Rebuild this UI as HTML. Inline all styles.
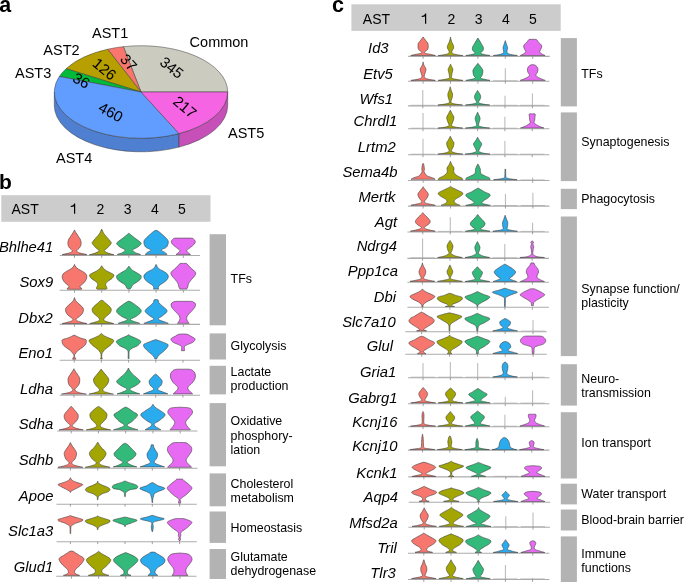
<!DOCTYPE html>
<html><head><meta charset="utf-8"><style>
html,body{margin:0;padding:0;background:#fff;overflow:hidden;}
svg{display:block;will-change:transform;}
text{font-family:"Liberation Sans", sans-serif;fill:#000;}
</style></head><body>
<svg width="685" height="582" viewBox="0 0 685 582">
<rect width="685" height="582" fill="#fff"/>
<path d="M54.30,92.00 A86.7,46.3 0 0 0 179.03,133.61 L179.03,147.11 A86.7,46.3 0 0 1 54.30,105.50 Z" fill="#4F7FD0" stroke="#3a3a3a" stroke-width="0.5" stroke-linejoin="round"/>
<path d="M179.03,133.61 A86.7,46.3 0 0 0 227.70,92.00 L227.70,105.50 A86.7,46.3 0 0 1 179.03,147.11 Z" fill="#C650B8" stroke="#3a3a3a" stroke-width="0.5" stroke-linejoin="round"/>
<path d="M141.0,92.0 L227.70,92.00 A86.7,46.3 0 0 0 123.39,46.67 Z" fill="#CCCBBF" stroke="#3a3a3a" stroke-width="0.5" stroke-linejoin="round"/>
<path d="M141.0,92.0 L123.39,46.67 A86.7,46.3 0 0 0 107.64,49.26 Z" fill="#F8766D" stroke="#3a3a3a" stroke-width="0.5" stroke-linejoin="round"/>
<path d="M141.0,92.0 L107.64,49.26 A86.7,46.3 0 0 0 66.08,68.70 Z" fill="#B79F00" stroke="#3a3a3a" stroke-width="0.5" stroke-linejoin="round"/>
<path d="M141.0,92.0 L66.08,68.70 A86.7,46.3 0 0 0 59.33,76.46 Z" fill="#00BA38" stroke="#3a3a3a" stroke-width="0.5" stroke-linejoin="round"/>
<path d="M141.0,92.0 L59.33,76.46 A86.7,46.3 0 0 0 179.03,133.61 Z" fill="#619CFF" stroke="#3a3a3a" stroke-width="0.5" stroke-linejoin="round"/>
<path d="M141.0,92.0 L179.03,133.61 A86.7,46.3 0 0 0 227.70,92.00 Z" fill="#F564E3" stroke="#3a3a3a" stroke-width="0.5" stroke-linejoin="round"/>
<text transform="translate(171.8,67.6) rotate(38)" x="0" y="5.3" text-anchor="middle" font-size="15">345</text>
<text transform="translate(128.7,62.5) rotate(48)" x="0" y="5.3" text-anchor="middle" font-size="15">37</text>
<text transform="translate(104.6,69.1) rotate(40)" x="0" y="5.3" text-anchor="middle" font-size="15">126</text>
<text transform="translate(81.5,80.5) rotate(30)" x="0" y="5.3" text-anchor="middle" font-size="15">36</text>
<text transform="translate(110.9,112.0) rotate(28)" x="0" y="5.3" text-anchor="middle" font-size="15">460</text>
<text transform="translate(185.0,106.9) rotate(40)" x="0" y="5.3" text-anchor="middle" font-size="15">217</text>
<text x="92.0" y="38.0"  font-size="14.5">AST1</text>
<text x="189.6" y="47.1"  font-size="14.5">Common</text>
<text x="43.3" y="54.5"  font-size="14.5">AST2</text>
<text x="15.0" y="77.9"  font-size="14.5">AST3</text>
<text x="228.0" y="137.6"  font-size="14.5">AST5</text>
<text x="56.0" y="162.5"  font-size="14.5">AST4</text>
<text x="-0.7" y="11.8" font-size="21.4" font-weight="bold">a</text>
<text x="-0.9" y="189.0" font-size="21" font-weight="bold">b</text>
<text x="332.1" y="11.8" font-size="21.6" font-weight="bold">c</text>
<rect x="1.3" y="195.2" width="209.2" height="26.6" fill="#CCCCCC"/>
<rect x="351.4" y="4.3" width="209.3" height="26.6" fill="#CCCCCC"/>
<text x="11.5" y="213.7"  font-size="14">AST</text>
<path d="M74.00,213.70 L75.20,213.70 L75.20,203.40 L74.25,203.40 Q73.80,205.40 70.70,205.90 L70.70,206.90 Q73.80,206.90 74.00,206.30 Z" fill="#000"/>
<text x="100.4" y="213.7"  font-size="14" text-anchor="middle">2</text>
<text x="127.6" y="213.7"  font-size="14" text-anchor="middle">3</text>
<text x="154.8" y="213.7"  font-size="14" text-anchor="middle">4</text>
<text x="182.0" y="213.7"  font-size="14" text-anchor="middle">5</text>
<text x="362.8" y="23.7"  font-size="14">AST</text>
<path d="M425.00,23.70 L426.20,23.70 L426.20,13.40 L425.25,13.40 Q424.80,15.40 421.70,15.90 L421.70,16.90 Q424.80,16.90 425.00,16.30 Z" fill="#000"/>
<text x="451.4" y="23.7"  font-size="14" text-anchor="middle">2</text>
<text x="478.6" y="23.7"  font-size="14" text-anchor="middle">3</text>
<text x="505.8" y="23.7"  font-size="14" text-anchor="middle">4</text>
<text x="532.9" y="23.7"  font-size="14" text-anchor="middle">5</text>
<rect x="209.6" y="234.2" width="16.4" height="91.1" fill="#B3B3B3"/>
<text x="230.6" y="282.9"  font-size="12.4">TFs</text>
<rect x="209.6" y="333.4" width="16.4" height="26.1" fill="#B3B3B3"/>
<text x="230.6" y="349.7"  font-size="12.4">Glycolysis</text>
<rect x="209.6" y="365.8" width="16.4" height="28.6" fill="#B3B3B3"/>
<text x="230.6" y="375.8"  font-size="12.4">Lactate</text>
<text x="230.6" y="390.0"  font-size="12.4">production</text>
<rect x="209.6" y="403.1" width="16.4" height="63.2" fill="#B3B3B3"/>
<text x="230.6" y="425.4"  font-size="12.4">Oxidative</text>
<text x="230.6" y="439.6"  font-size="12.4">phosphory-</text>
<text x="230.6" y="453.8"  font-size="12.4">lation</text>
<rect x="209.6" y="473.4" width="16.4" height="32.9" fill="#B3B3B3"/>
<text x="230.6" y="488.0"  font-size="12.4">Cholesterol</text>
<text x="230.6" y="502.2"  font-size="12.4">metabolism</text>
<rect x="209.6" y="511.5" width="16.4" height="31.4" fill="#B3B3B3"/>
<text x="230.6" y="532.2"  font-size="12.4">Homeostasis</text>
<rect x="209.6" y="549.0" width="16.4" height="30.0" fill="#B3B3B3"/>
<text x="230.6" y="561.2"  font-size="12.4">Glutamate</text>
<text x="230.6" y="575.4"  font-size="12.4">dehydrogenase</text>
<rect x="560.8" y="38.1" width="16.1" height="68.3" fill="#B3B3B3"/>
<text x="581.3" y="78.3"  font-size="12.4">TFs</text>
<rect x="560.8" y="112.4" width="16.1" height="68.7" fill="#B3B3B3"/>
<text x="581.3" y="145.8"  font-size="12.4">Synaptogenesis</text>
<rect x="560.8" y="188.8" width="16.1" height="20.3" fill="#B3B3B3"/>
<text x="581.3" y="203.0"  font-size="12.4">Phagocytosis</text>
<rect x="560.8" y="216.5" width="16.1" height="139.6" fill="#B3B3B3"/>
<text x="581.3" y="293.0"  font-size="12.4">Synapse function/</text>
<text x="581.3" y="307.4"  font-size="12.4">plasticity</text>
<rect x="560.8" y="364.2" width="16.1" height="41.4" fill="#B3B3B3"/>
<text x="581.3" y="382.5"  font-size="12.4">Neuro-</text>
<text x="581.3" y="396.9"  font-size="12.4">transmission</text>
<rect x="560.8" y="412.2" width="16.1" height="66.3" fill="#B3B3B3"/>
<text x="581.3" y="447.0"  font-size="12.4">Ion transport</text>
<rect x="560.8" y="483.7" width="16.1" height="20.7" fill="#B3B3B3"/>
<text x="581.3" y="498.2"  font-size="12.4">Water transport</text>
<rect x="560.8" y="509.5" width="16.1" height="21.0" fill="#B3B3B3"/>
<text x="581.3" y="523.9"  font-size="12.4">Blood-brain barrier</text>
<rect x="560.8" y="536.4" width="16.1" height="45.6" fill="#B3B3B3"/>
<text x="581.3" y="557.6"  font-size="12.4">Immune</text>
<text x="581.3" y="572.0"  font-size="12.4">functions</text>
<line x1="59.7" y1="255.5" x2="200.0" y2="255.5" stroke="#ABABAB" stroke-width="1.1"/>
<line x1="74.50" y1="255.5" x2="74.50" y2="257.9" stroke="#707070" stroke-width="0.65"/>
<line x1="101.70" y1="255.5" x2="101.70" y2="257.9" stroke="#707070" stroke-width="0.65"/>
<line x1="128.90" y1="255.5" x2="128.90" y2="257.9" stroke="#707070" stroke-width="0.65"/>
<line x1="156.10" y1="255.5" x2="156.10" y2="257.9" stroke="#707070" stroke-width="0.65"/>
<line x1="183.30" y1="255.5" x2="183.30" y2="257.9" stroke="#707070" stroke-width="0.65"/>
<path d="M62.10,254.70 L86.90,254.70 C86.77,254.65 87.22,254.67 86.10,254.40 C84.98,254.13 81.63,253.50 80.20,253.10 C78.77,252.70 78.05,252.45 77.50,252.00 C76.95,251.55 76.63,251.02 76.90,250.40 C77.17,249.78 78.45,249.10 79.10,248.30 C79.75,247.50 80.47,246.60 80.80,245.60 C81.13,244.60 81.20,243.38 81.10,242.30 C81.00,241.22 80.72,240.18 80.20,239.10 C79.68,238.02 78.72,236.88 78.00,235.80 C77.28,234.72 76.48,233.58 75.90,232.60 C75.32,231.62 74.73,230.35 74.50,229.90 L74.50,229.90 C74.27,230.35 73.68,231.62 73.10,232.60 C72.52,233.58 71.72,234.72 71.00,235.80 C70.28,236.88 69.32,238.02 68.80,239.10 C68.28,240.18 68.00,241.22 67.90,242.30 C67.80,243.38 67.87,244.60 68.20,245.60 C68.53,246.60 69.25,247.50 69.90,248.30 C70.55,249.10 71.83,249.78 72.10,250.40 C72.37,251.02 72.05,251.55 71.50,252.00 C70.95,252.45 70.23,252.70 68.80,253.10 C67.37,253.50 64.02,254.13 62.90,254.40 C61.78,254.67 62.23,254.65 62.10,254.70 Z" fill="#F7766D" stroke="#404040" stroke-width="0.6" stroke-linejoin="round"/>
<path d="M89.40,254.70 L114.00,254.70 C113.70,254.63 113.17,254.57 112.20,254.30 C111.23,254.03 109.42,253.57 108.20,253.10 C106.98,252.63 105.53,251.95 104.90,251.50 C104.27,251.05 103.95,251.03 104.40,250.40 C104.85,249.77 106.48,248.87 107.60,247.70 C108.72,246.53 110.65,244.48 111.10,243.40 C111.55,242.32 111.05,242.28 110.30,241.20 C109.55,240.12 107.67,238.15 106.60,236.90 C105.53,235.65 104.72,235.00 103.90,233.70 C103.08,232.40 102.07,229.87 101.70,229.10 L101.70,229.10 C101.33,229.87 100.32,232.40 99.50,233.70 C98.68,235.00 97.87,235.65 96.80,236.90 C95.73,238.15 93.85,240.12 93.10,241.20 C92.35,242.28 91.85,242.32 92.30,243.40 C92.75,244.48 94.68,246.53 95.80,247.70 C96.92,248.87 98.55,249.77 99.00,250.40 C99.45,251.03 99.13,251.05 98.50,251.50 C97.87,251.95 96.42,252.63 95.20,253.10 C93.98,253.57 92.17,254.03 91.20,254.30 C90.23,254.57 89.70,254.63 89.40,254.70 Z" fill="#A3A500" stroke="#404040" stroke-width="0.6" stroke-linejoin="round"/>
<path d="M117.30,254.45 L140.50,254.45 C140.23,254.36 139.68,254.16 138.90,253.90 C138.12,253.64 136.75,253.40 135.80,252.90 C134.85,252.40 133.70,251.45 133.20,250.90 C132.70,250.35 132.03,250.25 132.80,249.60 C133.57,248.95 136.42,247.98 137.80,247.00 C139.18,246.02 140.78,244.58 141.10,243.70 C141.42,242.82 140.80,242.68 139.70,241.70 C138.60,240.72 136.03,239.00 134.50,237.80 C132.97,236.60 131.43,235.27 130.50,234.50 C129.57,233.73 129.17,233.42 128.90,233.20 L128.90,233.20 C128.63,233.42 128.23,233.73 127.30,234.50 C126.37,235.27 124.83,236.60 123.30,237.80 C121.77,239.00 119.20,240.72 118.10,241.70 C117.00,242.68 116.38,242.82 116.70,243.70 C117.02,244.58 118.62,246.02 120.00,247.00 C121.38,247.98 124.23,248.95 125.00,249.60 C125.77,250.25 125.10,250.35 124.60,250.90 C124.10,251.45 122.95,252.40 122.00,252.90 C121.05,253.40 119.68,253.64 118.90,253.90 C118.12,254.16 117.57,254.36 117.30,254.45 Z" fill="#33B97A" stroke="#404040" stroke-width="0.6" stroke-linejoin="round"/>
<path d="M145.10,254.45 L167.10,254.45 C166.93,254.29 166.52,253.88 166.10,253.50 C165.68,253.12 165.28,252.63 164.60,252.20 C163.92,251.77 162.50,251.33 162.00,250.90 C161.50,250.47 160.83,250.25 161.60,249.60 C162.37,248.95 165.48,248.32 166.60,247.00 C167.72,245.68 168.43,243.23 168.30,241.70 C168.17,240.17 166.95,239.12 165.80,237.80 C164.65,236.48 162.65,234.90 161.40,233.80 C160.15,232.70 159.18,231.78 158.30,231.20 C157.42,230.62 156.47,230.45 156.10,230.30 L156.10,230.30 C155.73,230.45 154.78,230.62 153.90,231.20 C153.02,231.78 152.05,232.70 150.80,233.80 C149.55,234.90 147.55,236.48 146.40,237.80 C145.25,239.12 144.03,240.17 143.90,241.70 C143.77,243.23 144.48,245.68 145.60,247.00 C146.72,248.32 149.83,248.95 150.60,249.60 C151.37,250.25 150.70,250.47 150.20,250.90 C149.70,251.33 148.28,251.77 147.60,252.20 C146.92,252.63 146.52,253.12 146.10,253.50 C145.68,253.88 145.27,254.29 145.10,254.45 Z" fill="#2AABEE" stroke="#404040" stroke-width="0.6" stroke-linejoin="round"/>
<path d="M176.10,254.45 L190.50,254.45 C190.02,254.07 188.20,252.91 187.60,252.20 C187.00,251.49 186.47,250.97 186.90,250.20 C187.33,249.43 189.00,248.58 190.20,247.60 C191.40,246.62 193.25,245.33 194.10,244.30 C194.95,243.27 195.40,242.27 195.30,241.40 C195.20,240.53 194.08,239.63 193.50,239.10 C192.92,238.57 193.50,238.37 191.80,238.20 C190.10,238.03 184.72,238.12 183.30,238.10 L183.30,238.10 C181.88,238.12 176.50,238.03 174.80,238.20 C173.10,238.37 173.68,238.57 173.10,239.10 C172.52,239.63 171.40,240.53 171.30,241.40 C171.20,242.27 171.65,243.27 172.50,244.30 C173.35,245.33 175.20,246.62 176.40,247.60 C177.60,248.58 179.27,249.43 179.70,250.20 C180.13,250.97 179.60,251.49 179.00,252.20 C178.40,252.91 176.58,254.07 176.10,254.45 Z" fill="#E76BF2" stroke="#404040" stroke-width="0.6" stroke-linejoin="round"/>
<text x="53.30" y="251.5"  font-size="14.8" font-style="italic" text-anchor="end">Bhlhe41</text>
<line x1="59.7" y1="290.3" x2="200.0" y2="290.3" stroke="#ABABAB" stroke-width="1.1"/>
<line x1="74.50" y1="290.3" x2="74.50" y2="292.7" stroke="#707070" stroke-width="0.65"/>
<line x1="101.70" y1="290.3" x2="101.70" y2="292.7" stroke="#707070" stroke-width="0.65"/>
<line x1="128.90" y1="290.3" x2="128.90" y2="292.7" stroke="#707070" stroke-width="0.65"/>
<line x1="156.10" y1="290.3" x2="156.10" y2="292.7" stroke="#707070" stroke-width="0.65"/>
<line x1="183.30" y1="290.3" x2="183.30" y2="292.7" stroke="#707070" stroke-width="0.65"/>
<path d="M67.90,289.30 L81.10,289.30 C81.25,289.20 81.95,288.90 82.00,288.70 C82.05,288.50 81.75,288.37 81.40,288.10 C81.05,287.83 80.00,287.55 79.90,287.10 C79.80,286.65 80.12,286.13 80.80,285.40 C81.48,284.67 83.10,283.68 84.00,282.70 C84.90,281.72 85.73,280.57 86.20,279.50 C86.67,278.43 86.90,277.28 86.80,276.30 C86.70,275.32 86.30,274.42 85.60,273.60 C84.90,272.78 83.77,272.13 82.60,271.40 C81.43,270.67 79.72,269.92 78.60,269.20 C77.47,268.48 76.53,267.90 75.85,267.10 C75.17,266.30 74.72,264.85 74.50,264.40 L74.50,264.40 C74.28,264.85 73.83,266.30 73.15,267.10 C72.47,267.90 71.53,268.48 70.40,269.20 C69.28,269.92 67.57,270.67 66.40,271.40 C65.23,272.13 64.10,272.78 63.40,273.60 C62.70,274.42 62.30,275.32 62.20,276.30 C62.10,277.28 62.33,278.43 62.80,279.50 C63.27,280.57 64.10,281.72 65.00,282.70 C65.90,283.68 67.52,284.67 68.20,285.40 C68.88,286.13 69.20,286.65 69.10,287.10 C69.00,287.55 67.95,287.83 67.60,288.10 C67.25,288.37 66.95,288.50 67.00,288.70 C67.05,288.90 67.75,289.20 67.90,289.30 Z" fill="#F7766D" stroke="#404040" stroke-width="0.6" stroke-linejoin="round"/>
<path d="M97.10,289.20 L106.30,289.20 C106.43,289.02 107.10,288.55 107.10,288.10 C107.10,287.65 106.53,287.22 106.30,286.50 C106.07,285.78 105.38,284.70 105.70,283.80 C106.02,282.90 107.15,282.00 108.20,281.10 C109.25,280.20 111.05,279.38 112.00,278.40 C112.95,277.42 114.08,276.10 113.90,275.20 C113.72,274.30 112.12,273.72 110.90,273.00 C109.68,272.28 107.87,271.70 106.60,270.90 C105.33,270.10 104.12,269.07 103.30,268.20 C102.48,267.33 101.97,266.12 101.70,265.70 L101.70,265.70 C101.43,266.12 100.92,267.33 100.10,268.20 C99.28,269.07 98.07,270.10 96.80,270.90 C95.53,271.70 93.72,272.28 92.50,273.00 C91.28,273.72 89.68,274.30 89.50,275.20 C89.32,276.10 90.45,277.42 91.40,278.40 C92.35,279.38 94.15,280.20 95.20,281.10 C96.25,282.00 97.38,282.90 97.70,283.80 C98.02,284.70 97.33,285.78 97.10,286.50 C96.87,287.22 96.30,287.65 96.30,288.10 C96.30,288.55 96.97,289.02 97.10,289.20 Z" fill="#A3A500" stroke="#404040" stroke-width="0.6" stroke-linejoin="round"/>
<path d="M127.90,289.10 L129.90,289.10 C130.15,288.82 130.93,288.12 131.40,287.40 C131.87,286.68 131.80,285.67 132.70,284.80 C133.60,283.93 135.48,283.18 136.80,282.20 C138.12,281.22 139.92,280.00 140.60,278.90 C141.28,277.80 141.48,276.58 140.90,275.60 C140.32,274.62 138.50,273.88 137.10,273.00 C135.70,272.12 133.67,271.18 132.50,270.30 C131.33,269.42 130.70,268.40 130.10,267.70 C129.50,267.00 129.10,266.37 128.90,266.10 L128.90,266.10 C128.70,266.37 128.30,267.00 127.70,267.70 C127.10,268.40 126.47,269.42 125.30,270.30 C124.13,271.18 122.10,272.12 120.70,273.00 C119.30,273.88 117.48,274.62 116.90,275.60 C116.32,276.58 116.52,277.80 117.20,278.90 C117.88,280.00 119.68,281.22 121.00,282.20 C122.32,283.18 124.20,283.93 125.10,284.80 C126.00,285.67 125.93,286.68 126.40,287.40 C126.87,288.12 127.65,288.82 127.90,289.10 Z" fill="#33B97A" stroke="#404040" stroke-width="0.6" stroke-linejoin="round"/>
<path d="M153.50,289.10 L158.70,289.10 C158.65,288.82 158.27,288.02 158.40,287.40 C158.53,286.78 158.85,286.05 159.50,285.40 C160.15,284.75 161.22,284.27 162.30,283.50 C163.38,282.73 165.00,281.90 166.00,280.80 C167.00,279.70 168.15,278.10 168.30,276.90 C168.45,275.70 167.78,274.58 166.90,273.60 C166.02,272.62 164.40,271.87 163.00,271.00 C161.60,270.13 159.65,269.50 158.50,268.40 C157.35,267.30 156.50,265.07 156.10,264.40 L156.10,264.40 C155.70,265.07 154.85,267.30 153.70,268.40 C152.55,269.50 150.60,270.13 149.20,271.00 C147.80,271.87 146.18,272.62 145.30,273.60 C144.42,274.58 143.75,275.70 143.90,276.90 C144.05,278.10 145.20,279.70 146.20,280.80 C147.20,281.90 148.82,282.73 149.90,283.50 C150.98,284.27 152.05,284.75 152.70,285.40 C153.35,286.05 153.67,286.78 153.80,287.40 C153.93,288.02 153.55,288.82 153.50,289.10 Z" fill="#2AABEE" stroke="#404040" stroke-width="0.6" stroke-linejoin="round"/>
<path d="M179.90,289.10 L186.70,289.10 C186.88,288.72 187.48,287.73 187.80,286.80 C188.12,285.87 187.98,284.72 188.60,283.50 C189.22,282.28 190.45,280.82 191.50,279.50 C192.55,278.18 194.23,276.80 194.90,275.60 C195.57,274.40 195.98,273.40 195.50,272.30 C195.02,271.20 193.27,270.20 192.00,269.00 C190.73,267.80 188.80,266.02 187.90,265.10 C187.00,264.18 187.37,263.78 186.60,263.50 C185.83,263.22 183.85,263.42 183.30,263.40 L183.30,263.40 C182.75,263.42 180.77,263.22 180.00,263.50 C179.23,263.78 179.60,264.18 178.70,265.10 C177.80,266.02 175.87,267.80 174.60,269.00 C173.33,270.20 171.58,271.20 171.10,272.30 C170.62,273.40 171.03,274.40 171.70,275.60 C172.37,276.80 174.05,278.18 175.10,279.50 C176.15,280.82 177.38,282.28 178.00,283.50 C178.62,284.72 178.48,285.87 178.80,286.80 C179.12,287.73 179.72,288.72 179.90,289.10 Z" fill="#E76BF2" stroke="#404040" stroke-width="0.6" stroke-linejoin="round"/>
<text x="53.20" y="286.5"  font-size="14.8" font-style="italic" text-anchor="end">Sox9</text>
<line x1="59.7" y1="324.4" x2="200.0" y2="324.4" stroke="#ABABAB" stroke-width="1.1"/>
<line x1="74.50" y1="324.4" x2="74.50" y2="326.79999999999995" stroke="#707070" stroke-width="0.65"/>
<line x1="101.70" y1="324.4" x2="101.70" y2="326.79999999999995" stroke="#707070" stroke-width="0.65"/>
<line x1="128.90" y1="324.4" x2="128.90" y2="326.79999999999995" stroke="#707070" stroke-width="0.65"/>
<line x1="156.10" y1="324.4" x2="156.10" y2="326.79999999999995" stroke="#707070" stroke-width="0.65"/>
<line x1="183.30" y1="324.4" x2="183.30" y2="326.79999999999995" stroke="#707070" stroke-width="0.65"/>
<path d="M62.20,323.50 L86.80,323.50 C86.05,323.33 83.82,322.90 82.30,322.50 C80.78,322.10 78.73,321.65 77.70,321.10 C76.67,320.55 75.82,319.97 76.10,319.20 C76.38,318.43 78.33,317.48 79.40,316.50 C80.47,315.52 81.82,314.47 82.50,313.30 C83.18,312.13 83.57,310.58 83.50,309.50 C83.43,308.42 82.92,307.78 82.10,306.80 C81.28,305.82 79.64,304.58 78.60,303.60 C77.56,302.62 76.53,301.90 75.85,300.90 C75.17,299.90 74.72,298.15 74.50,297.60 L74.50,297.60 C74.28,298.15 73.83,299.90 73.15,300.90 C72.47,301.90 71.44,302.62 70.40,303.60 C69.36,304.58 67.72,305.82 66.90,306.80 C66.08,307.78 65.57,308.42 65.50,309.50 C65.43,310.58 65.82,312.13 66.50,313.30 C67.18,314.47 68.53,315.52 69.60,316.50 C70.67,317.48 72.62,318.43 72.90,319.20 C73.18,319.97 72.33,320.55 71.30,321.10 C70.27,321.65 68.22,322.10 66.70,322.50 C65.18,322.90 62.95,323.33 62.20,323.50 Z" fill="#F7766D" stroke="#404040" stroke-width="0.6" stroke-linejoin="round"/>
<path d="M89.80,323.50 L113.60,323.50 C112.97,323.33 111.22,322.90 109.80,322.50 C108.38,322.10 106.08,321.65 105.10,321.10 C104.12,320.55 103.75,319.97 103.90,319.20 C104.05,318.43 105.02,317.48 106.00,316.50 C106.98,315.52 108.92,314.47 109.80,313.30 C110.68,312.13 111.38,310.67 111.30,309.50 C111.22,308.33 110.27,307.38 109.30,306.30 C108.33,305.22 106.50,303.90 105.50,303.00 C104.50,302.10 103.93,301.35 103.30,300.90 C102.67,300.45 101.97,300.40 101.70,300.30 L101.70,300.30 C101.43,300.40 100.73,300.45 100.10,300.90 C99.47,301.35 98.90,302.10 97.90,303.00 C96.90,303.90 95.07,305.22 94.10,306.30 C93.13,307.38 92.18,308.33 92.10,309.50 C92.02,310.67 92.72,312.13 93.60,313.30 C94.48,314.47 96.42,315.52 97.40,316.50 C98.38,317.48 99.35,318.43 99.50,319.20 C99.65,319.97 99.28,320.55 98.30,321.10 C97.32,321.65 95.02,322.10 93.60,322.50 C92.18,322.90 90.43,323.33 89.80,323.50 Z" fill="#A3A500" stroke="#404040" stroke-width="0.6" stroke-linejoin="round"/>
<path d="M118.10,323.35 L139.70,323.35 C139.05,323.12 137.17,322.48 135.80,322.00 C134.43,321.52 132.35,320.98 131.50,320.50 C130.65,320.02 129.95,319.77 130.70,319.10 C131.45,318.43 134.33,317.58 136.00,316.50 C137.67,315.42 139.93,313.80 140.70,312.60 C141.47,311.40 141.25,310.40 140.60,309.30 C139.95,308.20 138.20,307.10 136.80,306.00 C135.40,304.90 133.52,303.52 132.20,302.70 C130.88,301.88 129.45,301.37 128.90,301.10 L128.90,301.10 C128.35,301.37 126.92,301.88 125.60,302.70 C124.28,303.52 122.40,304.90 121.00,306.00 C119.60,307.10 117.85,308.20 117.20,309.30 C116.55,310.40 116.33,311.40 117.10,312.60 C117.87,313.80 120.13,315.42 121.80,316.50 C123.47,317.58 126.35,318.43 127.10,319.10 C127.85,319.77 127.15,320.02 126.30,320.50 C125.45,320.98 123.37,321.52 122.00,322.00 C120.63,322.48 118.75,323.12 118.10,323.35 Z" fill="#33B97A" stroke="#404040" stroke-width="0.6" stroke-linejoin="round"/>
<path d="M143.90,323.35 L168.30,323.35 C167.63,323.09 165.83,322.39 164.30,321.80 C162.77,321.21 160.03,320.40 159.10,319.80 C158.17,319.20 158.17,318.85 158.70,318.20 C159.23,317.55 160.95,316.95 162.30,315.90 C163.65,314.85 166.15,313.00 166.80,311.90 C167.45,310.80 166.95,310.28 166.20,309.30 C165.45,308.32 163.52,307.10 162.30,306.00 C161.08,304.90 159.58,303.68 158.90,302.70 C158.22,301.72 158.67,300.65 158.20,300.10 C157.73,299.55 156.45,299.52 156.10,299.40 L156.10,299.40 C155.75,299.52 154.47,299.55 154.00,300.10 C153.53,300.65 153.98,301.72 153.30,302.70 C152.62,303.68 151.12,304.90 149.90,306.00 C148.68,307.10 146.75,308.32 146.00,309.30 C145.25,310.28 144.75,310.80 145.40,311.90 C146.05,313.00 148.55,314.85 149.90,315.90 C151.25,316.95 152.97,317.55 153.50,318.20 C154.03,318.85 154.03,319.20 153.10,319.80 C152.17,320.40 149.43,321.21 147.90,321.80 C146.37,322.39 144.57,323.09 143.90,323.35 Z" fill="#2AABEE" stroke="#404040" stroke-width="0.6" stroke-linejoin="round"/>
<path d="M177.40,323.35 L189.20,323.35 C188.98,323.09 188.33,322.61 187.90,321.80 C187.47,320.99 186.62,319.60 186.60,318.50 C186.58,317.40 186.98,316.40 187.80,315.20 C188.62,314.00 190.33,312.62 191.50,311.30 C192.67,309.98 194.13,308.52 194.80,307.30 C195.47,306.08 195.72,304.87 195.50,304.00 C195.28,303.13 194.17,302.53 193.50,302.10 C192.83,301.67 193.20,301.53 191.50,301.40 C189.80,301.27 184.67,301.32 183.30,301.30 L183.30,301.30 C181.93,301.32 176.80,301.27 175.10,301.40 C173.40,301.53 173.77,301.67 173.10,302.10 C172.43,302.53 171.32,303.13 171.10,304.00 C170.88,304.87 171.13,306.08 171.80,307.30 C172.47,308.52 173.93,309.98 175.10,311.30 C176.27,312.62 177.98,314.00 178.80,315.20 C179.62,316.40 180.02,317.40 180.00,318.50 C179.98,319.60 179.13,320.99 178.70,321.80 C178.27,322.61 177.62,323.09 177.40,323.35 Z" fill="#E76BF2" stroke="#404040" stroke-width="0.6" stroke-linejoin="round"/>
<text x="52.80" y="322.5"  font-size="14.8" font-style="italic" text-anchor="end">Dbx2</text>
<line x1="59.7" y1="360.2" x2="200.0" y2="360.2" stroke="#ABABAB" stroke-width="1.1"/>
<line x1="74.20" y1="360.2" x2="74.20" y2="362.59999999999997" stroke="#707070" stroke-width="0.65"/>
<line x1="101.40" y1="360.2" x2="101.40" y2="362.59999999999997" stroke="#707070" stroke-width="0.65"/>
<line x1="128.60" y1="360.2" x2="128.60" y2="362.59999999999997" stroke="#707070" stroke-width="0.65"/>
<line x1="155.80" y1="360.2" x2="155.80" y2="362.59999999999997" stroke="#707070" stroke-width="0.65"/>
<line x1="183.00" y1="360.2" x2="183.00" y2="362.59999999999997" stroke="#707070" stroke-width="0.65"/>
<path d="M72.60,359.20 L75.80,359.20 C75.72,358.97 75.51,358.22 75.30,357.80 C75.09,357.38 74.67,357.20 74.55,356.70 C74.43,356.20 74.39,355.38 74.60,354.80 C74.81,354.22 75.23,353.92 75.80,353.20 C76.37,352.48 76.83,351.50 78.00,350.50 C79.17,349.50 81.55,348.20 82.80,347.20 C84.05,346.20 84.92,345.40 85.50,344.50 C86.08,343.60 86.22,342.60 86.30,341.80 C86.38,341.00 86.93,340.32 86.00,339.70 C85.07,339.08 82.22,338.65 80.70,338.10 C79.18,337.55 77.98,336.90 76.90,336.40 C75.82,335.90 74.65,335.32 74.20,335.10 L74.20,335.10 C73.75,335.32 72.58,335.90 71.50,336.40 C70.42,336.90 69.22,337.55 67.70,338.10 C66.18,338.65 63.33,339.08 62.40,339.70 C61.47,340.32 62.02,341.00 62.10,341.80 C62.18,342.60 62.32,343.60 62.90,344.50 C63.48,345.40 64.35,346.20 65.60,347.20 C66.85,348.20 69.23,349.50 70.40,350.50 C71.57,351.50 72.03,352.48 72.60,353.20 C73.17,353.92 73.59,354.22 73.80,354.80 C74.01,355.38 73.97,356.20 73.85,356.70 C73.73,357.20 73.31,357.38 73.10,357.80 C72.89,358.22 72.68,358.97 72.60,359.20 Z" fill="#F7766D" stroke="#404040" stroke-width="0.6" stroke-linejoin="round"/>
<path d="M100.40,358.90 L102.40,358.90 C102.30,358.67 101.90,358.18 101.80,357.50 C101.70,356.82 101.68,355.62 101.80,354.80 C101.92,353.98 101.98,353.50 102.50,352.60 C103.02,351.70 103.78,350.47 104.90,349.40 C106.02,348.33 107.93,347.28 109.20,346.20 C110.47,345.12 111.77,343.90 112.50,342.90 C113.23,341.90 114.15,341.00 113.60,340.20 C113.05,339.40 110.73,338.82 109.20,338.10 C107.67,337.38 105.70,336.68 104.40,335.90 C103.10,335.12 101.90,333.82 101.40,333.40 L101.40,333.40 C100.90,333.82 99.70,335.12 98.40,335.90 C97.10,336.68 95.13,337.38 93.60,338.10 C92.07,338.82 89.75,339.40 89.20,340.20 C88.65,341.00 89.57,341.90 90.30,342.90 C91.03,343.90 92.33,345.12 93.60,346.20 C94.87,347.28 96.78,348.33 97.90,349.40 C99.02,350.47 99.78,351.70 100.30,352.60 C100.82,353.50 100.88,353.98 101.00,354.80 C101.12,355.62 101.10,356.82 101.00,357.50 C100.90,358.18 100.50,358.67 100.40,358.90 Z" fill="#A3A500" stroke="#404040" stroke-width="0.6" stroke-linejoin="round"/>
<path d="M128.10,358.60 L129.10,358.60 C129.08,357.73 128.93,354.75 129.00,353.40 C129.07,352.05 128.92,351.38 129.50,350.50 C130.08,349.62 131.12,348.93 132.50,348.10 C133.88,347.27 136.42,346.60 137.80,345.50 C139.18,344.40 140.92,342.60 140.80,341.50 C140.68,340.40 138.70,339.77 137.10,338.90 C135.50,338.03 132.62,337.00 131.20,336.30 C129.78,335.60 129.03,334.97 128.60,334.70 L128.60,334.70 C128.17,334.97 127.42,335.60 126.00,336.30 C124.58,337.00 121.70,338.03 120.10,338.90 C118.50,339.77 116.52,340.40 116.40,341.50 C116.28,342.60 118.02,344.40 119.40,345.50 C120.78,346.60 123.32,347.27 124.70,348.10 C126.08,348.93 127.12,349.62 127.70,350.50 C128.28,351.38 128.13,352.05 128.20,353.40 C128.27,354.75 128.12,357.73 128.10,358.60 Z" fill="#33B97A" stroke="#404040" stroke-width="0.6" stroke-linejoin="round"/>
<path d="M154.80,358.90 L156.80,358.90 C156.90,358.63 156.97,358.00 157.40,357.30 C157.83,356.60 158.52,355.57 159.40,354.70 C160.28,353.83 161.47,353.20 162.70,352.10 C163.93,351.00 165.90,349.32 166.80,348.10 C167.70,346.88 168.43,345.67 168.10,344.80 C167.77,343.93 166.20,343.55 164.80,342.90 C163.40,342.25 161.20,341.45 159.70,340.90 C158.20,340.35 156.45,339.82 155.80,339.60 L155.80,339.60 C155.15,339.82 153.40,340.35 151.90,340.90 C150.40,341.45 148.20,342.25 146.80,342.90 C145.40,343.55 143.83,343.93 143.50,344.80 C143.17,345.67 143.90,346.88 144.80,348.10 C145.70,349.32 147.67,351.00 148.90,352.10 C150.13,353.20 151.32,353.83 152.20,354.70 C153.08,355.57 153.77,356.60 154.20,357.30 C154.63,358.00 154.70,358.63 154.80,358.90 Z" fill="#2AABEE" stroke="#404040" stroke-width="0.6" stroke-linejoin="round"/>
<path d="M181.50,350.70 L184.50,350.70 C184.52,350.58 184.60,350.68 184.60,350.00 C184.60,349.32 184.00,347.50 184.50,346.60 C185.00,345.70 186.20,345.33 187.60,344.60 C189.00,343.87 191.65,343.15 192.90,342.20 C194.15,341.25 195.43,339.88 195.10,338.90 C194.77,337.92 192.20,337.07 190.90,336.30 C189.60,335.53 188.62,334.68 187.30,334.30 C185.98,333.92 183.72,334.05 183.00,334.00 L183.00,334.00 C182.28,334.05 180.02,333.92 178.70,334.30 C177.38,334.68 176.40,335.53 175.10,336.30 C173.80,337.07 171.23,337.92 170.90,338.90 C170.57,339.88 171.85,341.25 173.10,342.20 C174.35,343.15 177.00,343.87 178.40,344.60 C179.80,345.33 181.00,345.70 181.50,346.60 C182.00,347.50 181.40,349.32 181.40,350.00 C181.40,350.68 181.48,350.58 181.50,350.70 Z" fill="#E76BF2" stroke="#404040" stroke-width="0.6" stroke-linejoin="round"/>
<text x="53.00" y="358.3"  font-size="14.8" font-style="italic" text-anchor="end">Eno1</text>
<line x1="59.7" y1="395.2" x2="200.0" y2="395.2" stroke="#ABABAB" stroke-width="1.1"/>
<line x1="73.90" y1="395.2" x2="73.90" y2="397.59999999999997" stroke="#707070" stroke-width="0.65"/>
<line x1="101.15" y1="395.2" x2="101.15" y2="397.59999999999997" stroke="#707070" stroke-width="0.65"/>
<line x1="128.40" y1="395.2" x2="128.40" y2="397.59999999999997" stroke="#707070" stroke-width="0.65"/>
<line x1="155.65" y1="395.2" x2="155.65" y2="397.59999999999997" stroke="#707070" stroke-width="0.65"/>
<line x1="182.90" y1="395.2" x2="182.90" y2="397.59999999999997" stroke="#707070" stroke-width="0.65"/>
<path d="M61.50,394.10 L86.30,394.10 C85.37,393.92 82.37,393.45 80.70,393.00 C79.03,392.55 77.25,392.02 76.30,391.40 C75.35,390.78 74.82,390.10 75.00,389.30 C75.18,388.50 76.67,387.60 77.40,386.60 C78.13,385.60 79.02,384.65 79.40,383.30 C79.78,381.95 79.93,379.85 79.70,378.50 C79.47,377.15 78.65,376.28 78.00,375.20 C77.35,374.12 76.48,373.08 75.80,372.00 C75.12,370.92 74.22,369.25 73.90,368.70 L73.90,368.70 C73.58,369.25 72.68,370.92 72.00,372.00 C71.32,373.08 70.45,374.12 69.80,375.20 C69.15,376.28 68.33,377.15 68.10,378.50 C67.87,379.85 68.02,381.95 68.40,383.30 C68.78,384.65 69.67,385.60 70.40,386.60 C71.13,387.60 72.62,388.50 72.80,389.30 C72.98,390.10 72.45,390.78 71.50,391.40 C70.55,392.02 68.77,392.55 67.10,393.00 C65.43,393.45 62.43,393.92 61.50,394.10 Z" fill="#F7766D" stroke="#404040" stroke-width="0.6" stroke-linejoin="round"/>
<path d="M88.95,394.10 L113.35,394.10 C112.58,393.92 110.33,393.45 108.75,393.00 C107.17,392.55 104.82,392.02 103.85,391.40 C102.88,390.78 102.68,390.10 102.95,389.30 C103.22,388.50 104.58,387.68 105.45,386.60 C106.32,385.52 107.62,384.07 108.15,382.80 C108.68,381.53 109.00,380.27 108.65,379.00 C108.30,377.73 106.93,376.37 106.05,375.20 C105.17,374.03 104.17,373.02 103.35,372.00 C102.53,370.98 101.52,369.58 101.15,369.10 L101.15,369.10 C100.78,369.58 99.77,370.98 98.95,372.00 C98.13,373.02 97.13,374.03 96.25,375.20 C95.37,376.37 94.00,377.73 93.65,379.00 C93.30,380.27 93.62,381.53 94.15,382.80 C94.68,384.07 95.98,385.52 96.85,386.60 C97.72,387.68 99.08,388.50 99.35,389.30 C99.62,390.10 99.42,390.78 98.45,391.40 C97.48,392.02 95.13,392.55 93.55,393.00 C91.97,393.45 89.72,393.92 88.95,394.10 Z" fill="#A3A500" stroke="#404040" stroke-width="0.6" stroke-linejoin="round"/>
<path d="M117.00,393.90 L139.80,393.90 C139.00,393.63 136.53,392.90 135.00,392.30 C133.47,391.70 131.37,390.95 130.60,390.30 C129.83,389.65 129.57,389.17 130.40,388.40 C131.23,387.63 133.97,386.80 135.60,385.70 C137.23,384.60 139.98,383.10 140.20,381.80 C140.42,380.50 138.22,379.22 136.90,377.90 C135.58,376.58 133.50,375.12 132.30,373.90 C131.10,372.68 130.35,371.58 129.70,370.60 C129.05,369.62 128.62,368.43 128.40,368.00 L128.40,368.00 C128.18,368.43 127.75,369.62 127.10,370.60 C126.45,371.58 125.70,372.68 124.50,373.90 C123.30,375.12 121.22,376.58 119.90,377.90 C118.58,379.22 116.38,380.50 116.60,381.80 C116.82,383.10 119.57,384.60 121.20,385.70 C122.83,386.80 125.57,387.63 126.40,388.40 C127.23,389.17 126.97,389.65 126.20,390.30 C125.43,390.95 123.33,391.70 121.80,392.30 C120.27,392.90 117.80,393.63 117.00,393.90 Z" fill="#33B97A" stroke="#404040" stroke-width="0.6" stroke-linejoin="round"/>
<path d="M143.45,393.90 L167.85,393.90 C167.18,393.63 165.38,392.90 163.85,392.30 C162.32,391.70 159.63,390.95 158.65,390.30 C157.67,389.65 157.53,389.27 157.95,388.40 C158.37,387.53 160.45,386.32 161.15,385.10 C161.85,383.88 162.35,382.30 162.15,381.10 C161.95,379.90 160.77,378.88 159.95,377.90 C159.13,376.92 157.97,375.83 157.25,375.20 C156.53,374.57 155.92,374.28 155.65,374.10 L155.65,374.10 C155.38,374.28 154.77,374.57 154.05,375.20 C153.33,375.83 152.17,376.92 151.35,377.90 C150.53,378.88 149.35,379.90 149.15,381.10 C148.95,382.30 149.45,383.88 150.15,385.10 C150.85,386.32 152.93,387.53 153.35,388.40 C153.77,389.27 153.63,389.65 152.65,390.30 C151.67,390.95 148.98,391.70 147.45,392.30 C145.92,392.90 144.12,393.63 143.45,393.90 Z" fill="#2AABEE" stroke="#404040" stroke-width="0.6" stroke-linejoin="round"/>
<path d="M173.20,393.90 L192.60,393.90 C192.32,393.63 191.53,392.90 190.90,392.30 C190.27,391.70 189.28,391.17 188.80,390.30 C188.32,389.43 187.45,388.30 188.00,387.10 C188.55,385.90 190.93,384.53 192.10,383.10 C193.27,381.67 194.48,380.03 195.00,378.50 C195.52,376.97 195.57,375.22 195.20,373.90 C194.83,372.58 193.75,371.37 192.80,370.60 C191.85,369.83 191.15,369.53 189.50,369.30 C187.85,369.07 184.00,369.22 182.90,369.20 L182.90,369.20 C181.80,369.22 177.95,369.07 176.30,369.30 C174.65,369.53 173.95,369.83 173.00,370.60 C172.05,371.37 170.97,372.58 170.60,373.90 C170.23,375.22 170.28,376.97 170.80,378.50 C171.32,380.03 172.53,381.67 173.70,383.10 C174.87,384.53 177.25,385.90 177.80,387.10 C178.35,388.30 177.48,389.43 177.00,390.30 C176.52,391.17 175.53,391.70 174.90,392.30 C174.27,392.90 173.48,393.63 173.20,393.90 Z" fill="#E76BF2" stroke="#404040" stroke-width="0.6" stroke-linejoin="round"/>
<text x="53.00" y="393.5"  font-size="14.8" font-style="italic" text-anchor="end">Ldha</text>
<line x1="57.2" y1="431.0" x2="197.5" y2="431.0" stroke="#ABABAB" stroke-width="1.1"/>
<line x1="71.20" y1="431.0" x2="71.20" y2="433.4" stroke="#707070" stroke-width="0.65"/>
<line x1="98.45" y1="431.0" x2="98.45" y2="433.4" stroke="#707070" stroke-width="0.65"/>
<line x1="125.70" y1="431.0" x2="125.70" y2="433.4" stroke="#707070" stroke-width="0.65"/>
<line x1="152.95" y1="431.0" x2="152.95" y2="433.4" stroke="#707070" stroke-width="0.65"/>
<line x1="180.20" y1="431.0" x2="180.20" y2="433.4" stroke="#707070" stroke-width="0.65"/>
<path d="M59.10,429.90 L83.30,429.90 C82.45,429.72 79.85,429.27 78.20,428.80 C76.55,428.33 74.37,427.73 73.40,427.10 C72.43,426.47 72.03,425.85 72.40,425.00 C72.77,424.15 74.67,423.12 75.60,422.00 C76.53,420.88 77.60,419.55 78.00,418.30 C78.40,417.05 78.42,415.68 78.00,414.50 C77.58,413.32 76.37,412.28 75.50,411.20 C74.63,410.12 73.52,408.83 72.80,408.00 C72.08,407.17 71.47,406.50 71.20,406.20 L71.20,406.20 C70.93,406.50 70.32,407.17 69.60,408.00 C68.88,408.83 67.77,410.12 66.90,411.20 C66.03,412.28 64.82,413.32 64.40,414.50 C63.98,415.68 64.00,417.05 64.40,418.30 C64.80,419.55 65.87,420.88 66.80,422.00 C67.73,423.12 69.63,424.15 70.00,425.00 C70.37,425.85 69.97,426.47 69.00,427.10 C68.03,427.73 65.85,428.33 64.20,428.80 C62.55,429.27 59.95,429.72 59.10,429.90 Z" fill="#F7766D" stroke="#404040" stroke-width="0.6" stroke-linejoin="round"/>
<path d="M86.25,429.90 L110.65,429.90 C109.83,429.72 107.33,429.27 105.75,428.80 C104.17,428.33 102.05,427.73 101.15,427.10 C100.25,426.47 100.03,425.85 100.35,425.00 C100.67,424.15 102.07,423.12 103.05,422.00 C104.03,420.88 105.62,419.65 106.25,418.30 C106.88,416.95 107.20,415.17 106.85,413.90 C106.50,412.63 105.23,411.77 104.15,410.70 C103.07,409.63 101.30,408.22 100.35,407.50 C99.40,406.78 98.77,406.58 98.45,406.40 L98.45,406.40 C98.13,406.58 97.50,406.78 96.55,407.50 C95.60,408.22 93.83,409.63 92.75,410.70 C91.67,411.77 90.40,412.63 90.05,413.90 C89.70,415.17 90.02,416.95 90.65,418.30 C91.28,419.65 92.87,420.88 93.85,422.00 C94.83,423.12 96.23,424.15 96.55,425.00 C96.87,425.85 96.65,426.47 95.75,427.10 C94.85,427.73 92.73,428.33 91.15,428.80 C89.57,429.27 87.07,429.72 86.25,429.90 Z" fill="#A3A500" stroke="#404040" stroke-width="0.6" stroke-linejoin="round"/>
<path d="M113.50,429.80 L137.90,429.80 C137.02,429.53 134.27,428.78 132.60,428.20 C130.93,427.62 128.72,426.95 127.90,426.30 C127.08,425.65 126.92,425.18 127.70,424.30 C128.48,423.42 130.97,422.53 132.60,421.00 C134.23,419.47 137.38,416.63 137.50,415.10 C137.62,413.57 134.77,412.90 133.30,411.80 C131.83,410.70 129.97,409.30 128.70,408.50 C127.43,407.70 126.20,407.25 125.70,407.00 L125.70,407.00 C125.20,407.25 123.97,407.70 122.70,408.50 C121.43,409.30 119.57,410.70 118.10,411.80 C116.63,412.90 113.78,413.57 113.90,415.10 C114.02,416.63 117.17,419.47 118.80,421.00 C120.43,422.53 122.92,423.42 123.70,424.30 C124.48,425.18 124.32,425.65 123.50,426.30 C122.68,426.95 120.47,427.62 118.80,428.20 C117.13,428.78 114.38,429.53 113.50,429.80 Z" fill="#33B97A" stroke="#404040" stroke-width="0.6" stroke-linejoin="round"/>
<path d="M145.05,429.80 L160.85,429.80 C160.42,429.53 159.22,428.78 158.25,428.20 C157.28,427.62 155.68,427.07 155.05,426.30 C154.42,425.53 153.70,424.58 154.45,423.60 C155.20,422.62 157.77,421.82 159.55,420.40 C161.33,418.98 164.88,416.63 165.15,415.10 C165.42,413.57 162.82,412.52 161.15,411.20 C159.48,409.88 156.52,408.37 155.15,407.20 C153.78,406.03 153.32,404.70 152.95,404.20 L152.95,404.20 C152.58,404.70 152.12,406.03 150.75,407.20 C149.38,408.37 146.42,409.88 144.75,411.20 C143.08,412.52 140.48,413.57 140.75,415.10 C141.02,416.63 144.57,418.98 146.35,420.40 C148.13,421.82 150.70,422.62 151.45,423.60 C152.20,424.58 151.48,425.53 150.85,426.30 C150.22,427.07 148.62,427.62 147.65,428.20 C146.68,428.78 145.48,429.53 145.05,429.80 Z" fill="#2AABEE" stroke="#404040" stroke-width="0.6" stroke-linejoin="round"/>
<path d="M170.00,429.80 L190.40,429.80 C190.07,429.43 189.07,428.42 188.40,427.60 C187.73,426.78 186.83,425.88 186.40,424.90 C185.97,423.92 185.38,422.90 185.80,421.70 C186.22,420.50 187.80,419.13 188.90,417.70 C190.00,416.27 191.92,414.42 192.40,413.10 C192.88,411.78 192.38,410.67 191.80,409.80 C191.22,408.93 190.83,408.33 188.90,407.90 C186.97,407.47 181.65,407.32 180.20,407.20 L180.20,407.20 C178.75,407.32 173.43,407.47 171.50,407.90 C169.57,408.33 169.18,408.93 168.60,409.80 C168.02,410.67 167.52,411.78 168.00,413.10 C168.48,414.42 170.40,416.27 171.50,417.70 C172.60,419.13 174.18,420.50 174.60,421.70 C175.02,422.90 174.43,423.92 174.00,424.90 C173.57,425.88 172.67,426.78 172.00,427.60 C171.33,428.42 170.33,429.43 170.00,429.80 Z" fill="#E76BF2" stroke="#404040" stroke-width="0.6" stroke-linejoin="round"/>
<text x="53.30" y="428.8"  font-size="14.8" font-style="italic" text-anchor="end">Sdha</text>
<line x1="57.2" y1="468.2" x2="197.5" y2="468.2" stroke="#ABABAB" stroke-width="1.1"/>
<line x1="70.40" y1="468.2" x2="70.40" y2="470.59999999999997" stroke="#707070" stroke-width="0.65"/>
<line x1="97.70" y1="468.2" x2="97.70" y2="470.59999999999997" stroke="#707070" stroke-width="0.65"/>
<line x1="125.00" y1="468.2" x2="125.00" y2="470.59999999999997" stroke="#707070" stroke-width="0.65"/>
<line x1="152.30" y1="468.2" x2="152.30" y2="470.59999999999997" stroke="#707070" stroke-width="0.65"/>
<line x1="179.60" y1="468.2" x2="179.60" y2="470.59999999999997" stroke="#707070" stroke-width="0.65"/>
<path d="M58.00,467.30 L82.80,467.30 C81.87,467.08 78.87,466.48 77.20,466.00 C75.53,465.52 73.68,465.02 72.80,464.40 C71.92,463.78 71.53,463.20 71.90,462.30 C72.27,461.40 74.22,460.45 75.00,459.00 C75.78,457.55 76.60,455.13 76.60,453.60 C76.60,452.07 75.72,451.05 75.00,449.80 C74.28,448.55 73.07,447.32 72.30,446.10 C71.53,444.88 70.72,443.10 70.40,442.50 L70.40,442.50 C70.08,443.10 69.27,444.88 68.50,446.10 C67.73,447.32 66.52,448.55 65.80,449.80 C65.08,451.05 64.20,452.07 64.20,453.60 C64.20,455.13 65.02,457.55 65.80,459.00 C66.58,460.45 68.53,461.40 68.90,462.30 C69.27,463.20 68.88,463.78 68.00,464.40 C67.12,465.02 65.27,465.52 63.60,466.00 C61.93,466.48 58.93,467.08 58.00,467.30 Z" fill="#F7766D" stroke="#404040" stroke-width="0.6" stroke-linejoin="round"/>
<path d="M85.30,467.30 L110.10,467.30 C109.20,467.08 106.33,466.48 104.70,466.00 C103.07,465.52 101.20,465.02 100.30,464.40 C99.40,463.78 98.83,463.20 99.30,462.30 C99.77,461.40 101.98,460.35 103.10,459.00 C104.22,457.65 105.73,455.55 106.00,454.20 C106.27,452.85 105.55,452.08 104.70,450.90 C103.85,449.72 101.88,448.27 100.90,447.10 C99.92,445.93 99.33,444.73 98.80,443.90 C98.27,443.07 97.88,442.40 97.70,442.10 L97.70,442.10 C97.52,442.40 97.13,443.07 96.60,443.90 C96.07,444.73 95.48,445.93 94.50,447.10 C93.52,448.27 91.55,449.72 90.70,450.90 C89.85,452.08 89.13,452.85 89.40,454.20 C89.67,455.55 91.18,457.65 92.30,459.00 C93.42,460.35 95.63,461.40 96.10,462.30 C96.57,463.20 96.00,463.78 95.10,464.40 C94.20,465.02 92.33,465.52 90.70,466.00 C89.07,466.48 86.20,467.08 85.30,467.30 Z" fill="#A3A500" stroke="#404040" stroke-width="0.6" stroke-linejoin="round"/>
<path d="M113.20,466.90 L136.80,466.90 C135.98,466.63 133.37,465.90 131.90,465.30 C130.43,464.70 128.72,463.92 128.00,463.30 C127.28,462.68 126.73,462.47 127.60,461.60 C128.47,460.73 131.80,459.35 133.20,458.10 C134.60,456.85 135.88,455.30 136.00,454.10 C136.12,452.90 134.92,452.10 133.90,450.90 C132.88,449.70 131.00,448.00 129.90,446.90 C128.80,445.80 128.12,444.92 127.30,444.30 C126.48,443.68 125.38,443.38 125.00,443.20 L125.00,443.20 C124.62,443.38 123.52,443.68 122.70,444.30 C121.88,444.92 121.20,445.80 120.10,446.90 C119.00,448.00 117.12,449.70 116.10,450.90 C115.08,452.10 113.88,452.90 114.00,454.10 C114.12,455.30 115.40,456.85 116.80,458.10 C118.20,459.35 121.53,460.73 122.40,461.60 C123.27,462.47 122.72,462.68 122.00,463.30 C121.28,463.92 119.57,464.70 118.10,465.30 C116.63,465.90 114.02,466.63 113.20,466.90 Z" fill="#33B97A" stroke="#404040" stroke-width="0.6" stroke-linejoin="round"/>
<path d="M140.10,466.90 L164.50,466.90 C163.73,466.63 161.47,465.90 159.90,465.30 C158.33,464.70 156.02,463.95 155.10,463.30 C154.18,462.65 154.12,462.27 154.40,461.40 C154.68,460.53 156.27,459.32 156.80,458.10 C157.33,456.88 157.75,455.30 157.60,454.10 C157.45,452.90 156.52,451.98 155.90,450.90 C155.28,449.82 154.32,448.60 153.90,447.60 C153.48,446.60 153.67,445.38 153.40,444.90 C153.13,444.42 152.48,444.73 152.30,444.70 L152.30,444.70 C152.12,444.73 151.47,444.42 151.20,444.90 C150.93,445.38 151.12,446.60 150.70,447.60 C150.28,448.60 149.32,449.82 148.70,450.90 C148.08,451.98 147.15,452.90 147.00,454.10 C146.85,455.30 147.27,456.88 147.80,458.10 C148.33,459.32 149.92,460.53 150.20,461.40 C150.48,462.27 150.42,462.65 149.50,463.30 C148.58,463.95 146.27,464.70 144.70,465.30 C143.13,465.90 140.87,466.63 140.10,466.90 Z" fill="#2AABEE" stroke="#404040" stroke-width="0.6" stroke-linejoin="round"/>
<path d="M167.60,467.30 L191.60,467.30 C191.30,466.97 190.57,466.07 189.80,465.30 C189.03,464.53 187.58,463.68 187.00,462.70 C186.42,461.72 185.98,460.60 186.30,459.40 C186.62,458.20 188.02,456.92 188.90,455.50 C189.78,454.08 191.22,452.33 191.60,450.90 C191.98,449.47 191.88,448.12 191.20,446.90 C190.52,445.68 188.55,444.32 187.50,443.60 C186.45,442.88 186.22,442.78 184.90,442.60 C183.58,442.42 180.48,442.52 179.60,442.50 L179.60,442.50 C178.72,442.52 175.62,442.42 174.30,442.60 C172.98,442.78 172.75,442.88 171.70,443.60 C170.65,444.32 168.68,445.68 168.00,446.90 C167.32,448.12 167.22,449.47 167.60,450.90 C167.98,452.33 169.42,454.08 170.30,455.50 C171.18,456.92 172.58,458.20 172.90,459.40 C173.22,460.60 172.78,461.72 172.20,462.70 C171.62,463.68 170.17,464.53 169.40,465.30 C168.63,466.07 167.90,466.97 167.60,467.30 Z" fill="#E76BF2" stroke="#404040" stroke-width="0.6" stroke-linejoin="round"/>
<text x="53.30" y="464.5"  font-size="14.8" font-style="italic" text-anchor="end">Sdhb</text>
<line x1="56.5" y1="504.2" x2="196.8" y2="504.2" stroke="#ABABAB" stroke-width="1.1"/>
<line x1="70.40" y1="504.2" x2="70.40" y2="506.59999999999997" stroke="#707070" stroke-width="0.65"/>
<line x1="97.70" y1="504.2" x2="97.70" y2="506.59999999999997" stroke="#707070" stroke-width="0.65"/>
<line x1="125.00" y1="504.2" x2="125.00" y2="506.59999999999997" stroke="#707070" stroke-width="0.65"/>
<line x1="152.30" y1="504.2" x2="152.30" y2="506.59999999999997" stroke="#707070" stroke-width="0.65"/>
<line x1="179.60" y1="504.2" x2="179.60" y2="506.59999999999997" stroke="#707070" stroke-width="0.65"/>
<path d="M70.30,492.50 L70.50,492.50 C70.62,492.28 70.45,491.77 71.20,491.20 C71.95,490.63 73.52,489.90 75.00,489.10 C76.48,488.30 78.82,487.17 80.10,486.40 C81.38,485.63 83.15,485.13 82.70,484.50 C82.25,483.87 79.13,483.28 77.40,482.60 C75.67,481.92 73.47,481.22 72.30,480.40 C71.13,479.58 70.72,478.15 70.40,477.70 L70.40,477.70 C70.08,478.15 69.67,479.58 68.50,480.40 C67.33,481.22 65.13,481.92 63.40,482.60 C61.67,483.28 58.55,483.87 58.10,484.50 C57.65,485.13 59.42,485.63 60.70,486.40 C61.98,487.17 64.32,488.30 65.80,489.10 C67.28,489.90 68.85,490.63 69.60,491.20 C70.35,491.77 70.18,492.28 70.30,492.50 Z" fill="#F7766D" stroke="#404040" stroke-width="0.6" stroke-linejoin="round"/>
<path d="M97.40,499.70 L98.00,499.70 C98.08,499.18 97.83,497.57 98.50,496.60 C99.17,495.63 100.42,494.70 102.00,493.90 C103.58,493.10 106.67,492.52 108.00,491.80 C109.33,491.08 110.00,490.32 110.00,489.60 C110.00,488.88 109.23,488.22 108.00,487.50 C106.77,486.78 104.18,486.03 102.60,485.30 C101.02,484.57 99.32,483.82 98.50,483.10 C97.68,482.38 97.83,481.35 97.70,481.00 L97.70,481.00 C97.57,481.35 97.72,482.38 96.90,483.10 C96.08,483.82 94.38,484.57 92.80,485.30 C91.22,486.03 88.63,486.78 87.40,487.50 C86.17,488.22 85.40,488.88 85.40,489.60 C85.40,490.32 86.07,491.08 87.40,491.80 C88.73,492.52 91.82,493.10 93.40,493.90 C94.98,494.70 96.23,495.63 96.90,496.60 C97.57,497.57 97.32,499.18 97.40,499.70 Z" fill="#A3A500" stroke="#404040" stroke-width="0.6" stroke-linejoin="round"/>
<path d="M124.70,496.60 L125.30,496.60 C125.33,496.12 125.38,494.40 125.50,493.70 C125.62,493.00 125.20,493.07 126.00,492.40 C126.80,491.73 128.50,490.37 130.30,489.70 C132.10,489.03 135.63,489.05 136.80,488.40 C137.97,487.75 137.95,486.57 137.30,485.80 C136.65,485.03 134.62,484.45 132.90,483.80 C131.18,483.15 128.32,482.40 127.00,481.90 C125.68,481.40 125.33,480.98 125.00,480.80 L125.00,480.80 C124.67,480.98 124.32,481.40 123.00,481.90 C121.68,482.40 118.82,483.15 117.10,483.80 C115.38,484.45 113.35,485.03 112.70,485.80 C112.05,486.57 112.03,487.75 113.20,488.40 C114.37,489.05 117.90,489.03 119.70,489.70 C121.50,490.37 123.20,491.73 124.00,492.40 C124.80,493.07 124.38,493.00 124.50,493.70 C124.62,494.40 124.67,496.12 124.70,496.60 Z" fill="#33B97A" stroke="#404040" stroke-width="0.6" stroke-linejoin="round"/>
<path d="M152.00,502.60 L152.60,502.60 C152.63,501.98 152.62,500.05 152.80,498.90 C152.98,497.75 153.43,496.57 153.70,495.70 C153.97,494.83 153.70,494.37 154.40,493.70 C155.10,493.03 156.17,492.58 157.90,491.70 C159.63,490.82 164.75,489.38 164.80,488.40 C164.85,487.42 159.85,486.57 158.20,485.80 C156.55,485.03 155.88,484.35 154.90,483.80 C153.92,483.25 152.73,482.72 152.30,482.50 L152.30,482.50 C151.87,482.72 150.68,483.25 149.70,483.80 C148.72,484.35 148.05,485.03 146.40,485.80 C144.75,486.57 139.75,487.42 139.80,488.40 C139.85,489.38 144.97,490.82 146.70,491.70 C148.43,492.58 149.50,493.03 150.20,493.70 C150.90,494.37 150.63,494.83 150.90,495.70 C151.17,496.57 151.62,497.75 151.80,498.90 C151.98,500.05 151.97,501.98 152.00,502.60 Z" fill="#2AABEE" stroke="#404040" stroke-width="0.6" stroke-linejoin="round"/>
<path d="M178.60,503.15 L180.60,503.15 C180.60,502.89 180.67,502.12 180.60,501.60 C180.53,501.07 180.10,500.55 180.20,500.00 C180.30,499.45 180.27,499.13 181.20,498.30 C182.13,497.47 184.35,496.20 185.80,495.00 C187.25,493.80 188.88,492.30 189.90,491.10 C190.92,489.90 192.20,489.02 191.90,487.80 C191.60,486.58 189.43,485.00 188.10,483.80 C186.77,482.60 184.82,481.37 183.90,480.60 C182.98,479.83 183.32,479.45 182.60,479.20 C181.88,478.95 180.10,479.12 179.60,479.10 L179.60,479.10 C179.10,479.12 177.32,478.95 176.60,479.20 C175.88,479.45 176.22,479.83 175.30,480.60 C174.38,481.37 172.43,482.60 171.10,483.80 C169.77,485.00 167.60,486.58 167.30,487.80 C167.00,489.02 168.28,489.90 169.30,491.10 C170.32,492.30 171.95,493.80 173.40,495.00 C174.85,496.20 177.07,497.47 178.00,498.30 C178.93,499.13 178.90,499.45 179.00,500.00 C179.10,500.55 178.67,501.07 178.60,501.60 C178.53,502.12 178.60,502.89 178.60,503.15 Z" fill="#E76BF2" stroke="#404040" stroke-width="0.6" stroke-linejoin="round"/>
<text x="53.40" y="500.9"  font-size="14.8" font-style="italic" text-anchor="end">Apoe</text>
<line x1="56.5" y1="541.7" x2="196.8" y2="541.7" stroke="#ABABAB" stroke-width="1.1"/>
<line x1="70.40" y1="541.7" x2="70.40" y2="544.1" stroke="#707070" stroke-width="0.65"/>
<line x1="97.70" y1="541.7" x2="97.70" y2="544.1" stroke="#707070" stroke-width="0.65"/>
<line x1="125.00" y1="541.7" x2="125.00" y2="544.1" stroke="#707070" stroke-width="0.65"/>
<line x1="152.30" y1="541.7" x2="152.30" y2="544.1" stroke="#707070" stroke-width="0.65"/>
<line x1="179.60" y1="541.7" x2="179.60" y2="544.1" stroke="#707070" stroke-width="0.65"/>
<path d="M70.10,533.60 L70.70,533.60 C70.73,532.52 70.72,528.45 70.90,527.10 C71.08,525.75 71.03,526.13 71.80,525.50 C72.57,524.87 73.88,524.02 75.50,523.30 C77.12,522.58 80.28,521.82 81.50,521.20 C82.72,520.58 83.43,520.15 82.80,519.60 C82.17,519.05 79.50,518.45 77.70,517.90 C75.90,517.35 73.22,516.75 72.00,516.30 C70.78,515.85 70.67,515.38 70.40,515.20 L70.40,515.20 C70.13,515.38 70.02,515.85 68.80,516.30 C67.58,516.75 64.90,517.35 63.10,517.90 C61.30,518.45 58.63,519.05 58.00,519.60 C57.37,520.15 58.08,520.58 59.30,521.20 C60.52,521.82 63.68,522.58 65.30,523.30 C66.92,524.02 68.23,524.87 69.00,525.50 C69.77,526.13 69.72,525.75 69.90,527.10 C70.08,528.45 70.07,532.52 70.10,533.60 Z" fill="#F7766D" stroke="#404040" stroke-width="0.6" stroke-linejoin="round"/>
<path d="M97.40,529.50 L98.00,529.50 C98.13,529.10 98.03,527.85 98.80,527.10 C99.57,526.35 100.98,525.72 102.60,525.00 C104.22,524.28 107.27,523.53 108.50,522.80 C109.73,522.07 110.72,521.32 110.00,520.60 C109.28,519.88 105.98,519.12 104.20,518.50 C102.42,517.88 100.38,517.35 99.30,516.90 C98.22,516.45 97.97,515.98 97.70,515.80 L97.70,515.80 C97.43,515.98 97.18,516.45 96.10,516.90 C95.02,517.35 92.98,517.88 91.20,518.50 C89.42,519.12 86.12,519.88 85.40,520.60 C84.68,521.32 85.67,522.07 86.90,522.80 C88.13,523.53 91.18,524.28 92.80,525.00 C94.42,525.72 95.83,526.35 96.60,527.10 C97.37,527.85 97.27,529.10 97.40,529.50 Z" fill="#A3A500" stroke="#404040" stroke-width="0.6" stroke-linejoin="round"/>
<path d="M124.70,526.60 L125.30,526.60 C125.42,526.32 124.95,525.52 126.00,524.90 C127.05,524.28 129.75,523.67 131.60,522.90 C133.45,522.13 137.32,521.07 137.10,520.30 C136.88,519.53 132.32,518.85 130.30,518.30 C128.28,517.75 125.88,517.22 125.00,517.00 L125.00,517.00 C124.12,517.22 121.72,517.75 119.70,518.30 C117.68,518.85 113.12,519.53 112.90,520.30 C112.68,521.07 116.55,522.13 118.40,522.90 C120.25,523.67 122.95,524.28 124.00,524.90 C125.05,525.52 124.58,526.32 124.70,526.60 Z" fill="#33B97A" stroke="#404040" stroke-width="0.6" stroke-linejoin="round"/>
<path d="M152.00,531.50 L152.60,531.50 C152.70,530.95 153.10,529.20 153.20,528.20 C153.30,527.20 153.27,526.27 153.20,525.50 C153.13,524.73 152.53,524.25 152.80,523.60 C153.07,522.95 152.88,522.37 154.80,521.60 C156.72,520.83 163.83,519.77 164.30,519.00 C164.77,518.23 159.60,517.62 157.60,517.00 C155.60,516.38 153.18,515.58 152.30,515.30 L152.30,515.30 C151.42,515.58 149.00,516.38 147.00,517.00 C145.00,517.62 139.83,518.23 140.30,519.00 C140.77,519.77 147.88,520.83 149.80,521.60 C151.72,522.37 151.53,522.95 151.80,523.60 C152.07,524.25 151.47,524.73 151.40,525.50 C151.33,526.27 151.30,527.20 151.40,528.20 C151.50,529.20 151.90,530.95 152.00,531.50 Z" fill="#2AABEE" stroke="#404040" stroke-width="0.6" stroke-linejoin="round"/>
<path d="M179.20,540.65 L180.00,540.65 C180.10,540.43 180.57,539.84 180.60,539.30 C180.63,538.76 180.15,538.05 180.20,537.40 C180.25,536.75 180.83,536.07 180.90,535.40 C180.97,534.73 180.43,534.05 180.60,533.40 C180.77,532.75 180.92,532.37 181.90,531.50 C182.88,530.63 185.13,529.30 186.50,528.20 C187.87,527.10 189.20,525.88 190.10,524.90 C191.00,523.92 192.12,523.07 191.90,522.30 C191.68,521.53 190.13,520.90 188.80,520.30 C187.47,519.70 185.43,518.98 183.90,518.70 C182.37,518.42 180.32,518.62 179.60,518.60 L179.60,518.60 C178.88,518.62 176.83,518.42 175.30,518.70 C173.77,518.98 171.73,519.70 170.40,520.30 C169.07,520.90 167.52,521.53 167.30,522.30 C167.08,523.07 168.20,523.92 169.10,524.90 C170.00,525.88 171.33,527.10 172.70,528.20 C174.07,529.30 176.32,530.63 177.30,531.50 C178.28,532.37 178.43,532.75 178.60,533.40 C178.77,534.05 178.23,534.73 178.30,535.40 C178.37,536.07 178.95,536.75 179.00,537.40 C179.05,538.05 178.57,538.76 178.60,539.30 C178.63,539.84 179.10,540.43 179.20,540.65 Z" fill="#E76BF2" stroke="#404040" stroke-width="0.6" stroke-linejoin="round"/>
<text x="53.30" y="535.7"  font-size="14.8" font-style="italic" text-anchor="end">Slc1a3</text>
<line x1="56.2" y1="576.3" x2="196.5" y2="576.3" stroke="#ABABAB" stroke-width="1.1"/>
<line x1="71.50" y1="576.3" x2="71.50" y2="578.6999999999999" stroke="#707070" stroke-width="0.65"/>
<line x1="98.60" y1="576.3" x2="98.60" y2="578.6999999999999" stroke="#707070" stroke-width="0.65"/>
<line x1="125.70" y1="576.3" x2="125.70" y2="578.6999999999999" stroke="#707070" stroke-width="0.65"/>
<line x1="152.80" y1="576.3" x2="152.80" y2="578.6999999999999" stroke="#707070" stroke-width="0.65"/>
<line x1="179.90" y1="576.3" x2="179.90" y2="578.6999999999999" stroke="#707070" stroke-width="0.65"/>
<path d="M63.40,575.40 L79.60,575.40 C79.15,575.23 77.72,574.85 76.90,574.40 C76.08,573.95 74.93,573.52 74.70,572.70 C74.47,571.88 74.60,570.75 75.50,569.50 C76.40,568.25 78.78,566.63 80.10,565.20 C81.42,563.77 82.80,562.07 83.40,560.90 C84.00,559.73 84.33,559.10 83.70,558.20 C83.07,557.30 81.00,556.40 79.60,555.50 C78.20,554.60 76.38,553.50 75.30,552.80 C74.22,552.10 73.73,551.60 73.10,551.30 C72.47,551.00 71.77,551.05 71.50,551.00 L71.50,551.00 C71.23,551.05 70.53,551.00 69.90,551.30 C69.27,551.60 68.78,552.10 67.70,552.80 C66.62,553.50 64.80,554.60 63.40,555.50 C62.00,556.40 59.93,557.30 59.30,558.20 C58.67,559.10 59.00,559.73 59.60,560.90 C60.20,562.07 61.58,563.77 62.90,565.20 C64.22,566.63 66.60,568.25 67.50,569.50 C68.40,570.75 68.53,571.88 68.30,572.70 C68.07,573.52 66.92,573.95 66.10,574.40 C65.28,574.85 63.85,575.23 63.40,575.40 Z" fill="#F7766D" stroke="#404040" stroke-width="0.6" stroke-linejoin="round"/>
<path d="M88.30,575.40 L108.90,575.40 C108.35,575.23 106.72,574.85 105.60,574.40 C104.48,573.95 102.73,573.52 102.20,572.70 C101.67,571.88 101.63,570.67 102.40,569.50 C103.17,568.33 105.40,567.23 106.80,565.70 C108.20,564.17 110.63,561.73 110.80,560.30 C110.97,558.87 109.30,558.18 107.80,557.10 C106.30,556.02 103.33,554.77 101.80,553.80 C100.27,552.83 99.13,551.72 98.60,551.30 L98.60,551.30 C98.07,551.72 96.93,552.83 95.40,553.80 C93.87,554.77 90.90,556.02 89.40,557.10 C87.90,558.18 86.23,558.87 86.40,560.30 C86.57,561.73 89.00,564.17 90.40,565.70 C91.80,567.23 94.03,568.33 94.80,569.50 C95.57,570.67 95.53,571.88 95.00,572.70 C94.47,573.52 92.72,573.95 91.60,574.40 C90.48,574.85 88.85,575.23 88.30,575.40 Z" fill="#A3A500" stroke="#404040" stroke-width="0.6" stroke-linejoin="round"/>
<path d="M120.40,575.40 L131.00,575.40 C130.50,575.18 128.57,574.83 128.00,574.10 C127.43,573.37 127.17,572.05 127.60,571.00 C128.03,569.95 129.33,569.00 130.60,567.80 C131.87,566.60 133.98,565.12 135.20,563.80 C136.42,562.48 138.00,561.10 137.90,559.90 C137.80,558.70 136.03,557.58 134.60,556.60 C133.17,555.62 130.78,554.67 129.30,554.00 C127.82,553.33 126.30,552.83 125.70,552.60 L125.70,552.60 C125.10,552.83 123.58,553.33 122.10,554.00 C120.62,554.67 118.23,555.62 116.80,556.60 C115.37,557.58 113.60,558.70 113.50,559.90 C113.40,561.10 114.98,562.48 116.20,563.80 C117.42,565.12 119.53,566.60 120.80,567.80 C122.07,569.00 123.37,569.95 123.80,571.00 C124.23,572.05 123.97,573.37 123.40,574.10 C122.83,574.83 120.90,575.18 120.40,575.40 Z" fill="#33B97A" stroke="#404040" stroke-width="0.6" stroke-linejoin="round"/>
<path d="M147.90,575.40 L157.70,575.40 C157.43,575.18 156.55,574.72 156.10,574.10 C155.65,573.48 154.78,572.75 155.00,571.70 C155.22,570.65 156.02,569.12 157.40,567.80 C158.78,566.48 162.03,565.12 163.30,563.80 C164.57,562.48 165.22,561.10 165.00,559.90 C164.78,558.70 163.27,557.58 162.00,556.60 C160.73,555.62 158.60,554.72 157.40,554.00 C156.20,553.28 155.57,552.62 154.80,552.30 C154.03,551.98 153.13,552.13 152.80,552.10 L152.80,552.10 C152.47,552.13 151.57,551.98 150.80,552.30 C150.03,552.62 149.40,553.28 148.20,554.00 C147.00,554.72 144.87,555.62 143.60,556.60 C142.33,557.58 140.82,558.70 140.60,559.90 C140.38,561.10 141.03,562.48 142.30,563.80 C143.57,565.12 146.82,566.48 148.20,567.80 C149.58,569.12 150.38,570.65 150.60,571.70 C150.82,572.75 149.95,573.48 149.50,574.10 C149.05,574.72 148.17,575.18 147.90,575.40 Z" fill="#2AABEE" stroke="#404040" stroke-width="0.6" stroke-linejoin="round"/>
<path d="M171.80,575.60 L188.00,575.60 C187.78,575.35 187.07,574.87 186.70,574.10 C186.33,573.33 185.80,572.05 185.80,571.00 C185.80,569.95 186.03,569.00 186.70,567.80 C187.37,566.60 188.92,565.12 189.80,563.80 C190.68,562.48 191.78,561.10 192.00,559.90 C192.22,558.70 191.80,557.58 191.10,556.60 C190.40,555.62 189.67,554.60 187.80,554.00 C185.93,553.40 181.22,553.17 179.90,553.00 L179.90,553.00 C178.58,553.17 173.87,553.40 172.00,554.00 C170.13,554.60 169.40,555.62 168.70,556.60 C168.00,557.58 167.58,558.70 167.80,559.90 C168.02,561.10 169.12,562.48 170.00,563.80 C170.88,565.12 172.43,566.60 173.10,567.80 C173.77,569.00 174.00,569.95 174.00,571.00 C174.00,572.05 173.47,573.33 173.10,574.10 C172.73,574.87 172.02,575.35 171.80,575.60 Z" fill="#E76BF2" stroke="#404040" stroke-width="0.6" stroke-linejoin="round"/>
<text x="53.30" y="571.5"  font-size="14.8" font-style="italic" text-anchor="end">Glud1</text>
<line x1="408.2" y1="56.4" x2="549.7" y2="56.4" stroke="#ABABAB" stroke-width="1.1"/>
<line x1="423.10" y1="56.4" x2="423.10" y2="58.8" stroke="#707070" stroke-width="0.65"/>
<line x1="450.50" y1="56.4" x2="450.50" y2="58.8" stroke="#707070" stroke-width="0.65"/>
<line x1="477.90" y1="56.4" x2="477.90" y2="58.8" stroke="#707070" stroke-width="0.65"/>
<line x1="505.30" y1="56.4" x2="505.30" y2="58.8" stroke="#707070" stroke-width="0.65"/>
<line x1="532.70" y1="56.4" x2="532.70" y2="58.8" stroke="#707070" stroke-width="0.65"/>
<path d="M410.80,55.50 L435.40,55.50 C434.72,55.33 432.92,54.85 431.30,54.50 C429.68,54.15 426.83,53.82 425.70,53.40 C424.57,52.98 424.27,52.55 424.50,52.00 C424.73,51.45 426.50,50.73 427.10,50.10 C427.70,49.47 427.92,48.98 428.10,48.20 C428.28,47.42 428.25,46.25 428.20,45.40 C428.15,44.55 428.12,43.80 427.80,43.10 C427.48,42.40 426.83,41.90 426.30,41.20 C425.77,40.50 425.13,39.60 424.60,38.90 C424.07,38.20 423.35,37.32 423.10,37.00 L423.10,37.00 C422.85,37.32 422.13,38.20 421.60,38.90 C421.07,39.60 420.43,40.50 419.90,41.20 C419.37,41.90 418.72,42.40 418.40,43.10 C418.08,43.80 418.05,44.55 418.00,45.40 C417.95,46.25 417.92,47.42 418.10,48.20 C418.28,48.98 418.50,49.47 419.10,50.10 C419.70,50.73 421.47,51.45 421.70,52.00 C421.93,52.55 421.63,52.98 420.50,53.40 C419.37,53.82 416.52,54.15 414.90,54.50 C413.28,54.85 411.48,55.33 410.80,55.50 Z" fill="#F7766D" stroke="#404040" stroke-width="0.6" stroke-linejoin="round"/>
<path d="M438.10,55.60 L462.90,55.60 C462.00,55.47 459.20,55.15 457.50,54.80 C455.80,54.45 453.63,54.08 452.70,53.50 C451.77,52.92 451.75,52.20 451.90,51.30 C452.05,50.40 453.35,49.08 453.60,48.10 C453.85,47.12 453.67,46.30 453.40,45.40 C453.13,44.50 452.38,43.60 452.00,42.70 C451.62,41.80 451.35,40.93 451.10,40.00 C450.85,39.07 450.60,37.58 450.50,37.10 L450.50,37.10 C450.40,37.58 450.15,39.07 449.90,40.00 C449.65,40.93 449.38,41.80 449.00,42.70 C448.62,43.60 447.87,44.50 447.60,45.40 C447.33,46.30 447.15,47.12 447.40,48.10 C447.65,49.08 448.95,50.40 449.10,51.30 C449.25,52.20 449.23,52.92 448.30,53.50 C447.37,54.08 445.20,54.45 443.50,54.80 C441.80,55.15 439.00,55.47 438.10,55.60 Z" fill="#A3A500" stroke="#404040" stroke-width="0.6" stroke-linejoin="round"/>
<path d="M465.80,55.50 L490.00,55.50 C488.97,55.32 485.38,54.80 483.80,54.40 C482.22,54.00 480.63,53.75 480.50,53.10 C480.37,52.45 482.53,51.48 483.00,50.50 C483.47,49.52 483.57,48.30 483.30,47.20 C483.03,46.10 482.03,45.00 481.40,43.90 C480.77,42.80 480.08,41.58 479.50,40.60 C478.92,39.62 478.17,38.43 477.90,38.00 L477.90,38.00 C477.63,38.43 476.88,39.62 476.30,40.60 C475.72,41.58 475.03,42.80 474.40,43.90 C473.77,45.00 472.77,46.10 472.50,47.20 C472.23,48.30 472.33,49.52 472.80,50.50 C473.27,51.48 475.43,52.45 475.30,53.10 C475.17,53.75 473.58,54.00 472.00,54.40 C470.42,54.80 466.83,55.32 465.80,55.50 Z" fill="#33B97A" stroke="#404040" stroke-width="0.6" stroke-linejoin="round"/>
<path d="M493.30,55.50 L517.30,55.50 C516.18,55.32 512.23,54.80 510.60,54.40 C508.97,54.00 508.12,53.65 507.50,53.10 C506.88,52.55 506.88,51.97 506.90,51.10 C506.92,50.23 507.65,48.98 507.60,47.90 C507.55,46.82 506.98,45.82 506.60,44.60 C506.22,43.38 505.52,41.27 505.30,40.60 L505.30,40.60 C505.08,41.27 504.38,43.38 504.00,44.60 C503.62,45.82 503.05,46.82 503.00,47.90 C502.95,48.98 503.68,50.23 503.70,51.10 C503.72,51.97 503.72,52.55 503.10,53.10 C502.48,53.65 501.63,54.00 500.00,54.40 C498.37,54.80 494.42,55.32 493.30,55.50 Z" fill="#2AABEE" stroke="#404040" stroke-width="0.6" stroke-linejoin="round"/>
<path d="M520.30,55.50 L545.10,55.50 C544.52,55.22 542.52,54.42 541.60,53.80 C540.68,53.18 539.78,52.45 539.60,51.80 C539.42,51.15 540.15,50.72 540.50,49.90 C540.85,49.08 541.57,47.73 541.70,46.90 C541.83,46.07 541.88,45.73 541.30,44.90 C540.72,44.07 539.00,42.78 538.20,41.90 C537.40,41.02 537.42,40.03 536.50,39.60 C535.58,39.17 533.33,39.35 532.70,39.30 L532.70,39.30 C532.07,39.35 529.82,39.17 528.90,39.60 C527.98,40.03 528.00,41.02 527.20,41.90 C526.40,42.78 524.68,44.07 524.10,44.90 C523.52,45.73 523.57,46.07 523.70,46.90 C523.83,47.73 524.55,49.08 524.90,49.90 C525.25,50.72 525.98,51.15 525.80,51.80 C525.62,52.45 524.72,53.18 523.80,53.80 C522.88,54.42 520.88,55.22 520.30,55.50 Z" fill="#E76BF2" stroke="#404040" stroke-width="0.6" stroke-linejoin="round"/>
<text x="388.60" y="52.7"  font-size="14.8" font-style="italic" text-anchor="end">Id3</text>
<line x1="407.9" y1="81.3" x2="549.4" y2="81.3" stroke="#ABABAB" stroke-width="1.1"/>
<line x1="423.10" y1="81.3" x2="423.10" y2="83.7" stroke="#707070" stroke-width="0.65"/>
<line x1="450.50" y1="81.3" x2="450.50" y2="83.7" stroke="#707070" stroke-width="0.65"/>
<line x1="477.90" y1="81.3" x2="477.90" y2="83.7" stroke="#707070" stroke-width="0.65"/>
<line x1="505.30" y1="81.3" x2="505.30" y2="83.7" stroke="#707070" stroke-width="0.65"/>
<line x1="532.70" y1="81.3" x2="532.70" y2="83.7" stroke="#707070" stroke-width="0.65"/>
<path d="M410.90,80.40 L435.30,80.40 C434.48,80.27 432.03,79.95 430.40,79.60 C428.77,79.25 426.53,78.88 425.50,78.30 C424.47,77.72 424.25,77.00 424.20,76.10 C424.15,75.20 424.90,74.07 425.20,72.90 C425.50,71.73 426.10,70.18 426.00,69.10 C425.90,68.02 425.02,67.22 424.60,66.40 C424.18,65.58 423.75,64.95 423.50,64.20 C423.25,63.45 423.17,62.28 423.10,61.90 L423.10,61.90 C423.03,62.28 422.95,63.45 422.70,64.20 C422.45,64.95 422.02,65.58 421.60,66.40 C421.18,67.22 420.30,68.02 420.20,69.10 C420.10,70.18 420.70,71.73 421.00,72.90 C421.30,74.07 422.05,75.20 422.00,76.10 C421.95,77.00 421.73,77.72 420.70,78.30 C419.67,78.88 417.43,79.25 415.80,79.60 C414.17,79.95 411.72,80.27 410.90,80.40 Z" fill="#F7766D" stroke="#404040" stroke-width="0.6" stroke-linejoin="round"/>
<path d="M438.10,80.40 L462.90,80.40 C462.00,80.27 459.30,79.95 457.50,79.60 C455.70,79.25 453.08,78.88 452.10,78.30 C451.12,77.72 451.60,77.00 451.60,76.10 C451.60,75.20 451.88,73.98 452.10,72.90 C452.32,71.82 452.95,70.60 452.90,69.60 C452.85,68.60 452.20,67.80 451.80,66.90 C451.40,66.00 450.72,64.65 450.50,64.20 L450.50,64.20 C450.28,64.65 449.60,66.00 449.20,66.90 C448.80,67.80 448.15,68.60 448.10,69.60 C448.05,70.60 448.68,71.82 448.90,72.90 C449.12,73.98 449.40,75.20 449.40,76.10 C449.40,77.00 449.88,77.72 448.90,78.30 C447.92,78.88 445.30,79.25 443.50,79.60 C441.70,79.95 439.00,80.27 438.10,80.40 Z" fill="#A3A500" stroke="#404040" stroke-width="0.6" stroke-linejoin="round"/>
<path d="M465.80,80.40 L490.00,80.40 C489.08,80.22 486.08,79.70 484.50,79.30 C482.92,78.90 480.90,78.65 480.50,78.00 C480.10,77.35 481.70,76.60 482.10,75.40 C482.50,74.20 483.05,72.12 482.90,70.80 C482.75,69.48 481.82,68.48 481.20,67.50 C480.58,66.52 479.75,65.60 479.20,64.90 C478.65,64.20 478.12,63.57 477.90,63.30 L477.90,63.30 C477.68,63.57 477.15,64.20 476.60,64.90 C476.05,65.60 475.22,66.52 474.60,67.50 C473.98,68.48 473.05,69.48 472.90,70.80 C472.75,72.12 473.30,74.20 473.70,75.40 C474.10,76.60 475.70,77.35 475.30,78.00 C474.90,78.65 472.88,78.90 471.30,79.30 C469.72,79.70 466.72,80.22 465.80,80.40 Z" fill="#33B97A" stroke="#404040" stroke-width="0.6" stroke-linejoin="round"/>
<line x1="493.10" y1="80.70" x2="517.50" y2="80.70" stroke="#a8a8a8" stroke-width="0.7"/>
<line x1="505.30" y1="80.80" x2="505.30" y2="68.30" stroke="#8e8e8e" stroke-width="0.65"/>
<path d="M520.20,80.40 L545.20,80.40 C544.48,80.12 542.27,79.32 540.90,78.70 C539.53,78.08 537.82,77.37 537.00,76.70 C536.18,76.03 535.90,75.47 536.00,74.70 C536.10,73.93 537.30,73.18 537.60,72.10 C537.90,71.02 538.12,69.30 537.80,68.20 C537.48,67.10 536.55,66.12 535.70,65.50 C534.85,64.88 533.20,64.67 532.70,64.50 L532.70,64.50 C532.20,64.67 530.55,64.88 529.70,65.50 C528.85,66.12 527.92,67.10 527.60,68.20 C527.28,69.30 527.50,71.02 527.80,72.10 C528.10,73.18 529.30,73.93 529.40,74.70 C529.50,75.47 529.22,76.03 528.40,76.70 C527.58,77.37 525.87,78.08 524.50,78.70 C523.13,79.32 520.92,80.12 520.20,80.40 Z" fill="#E76BF2" stroke="#404040" stroke-width="0.6" stroke-linejoin="round"/>
<text x="392.80" y="78.5"  font-size="14.8" font-style="italic" text-anchor="end">Etv5</text>
<line x1="407.9" y1="105.9" x2="549.4" y2="105.9" stroke="#ABABAB" stroke-width="1.1"/>
<line x1="422.80" y1="105.9" x2="422.80" y2="108.30000000000001" stroke="#707070" stroke-width="0.65"/>
<line x1="450.20" y1="105.9" x2="450.20" y2="108.30000000000001" stroke="#707070" stroke-width="0.65"/>
<line x1="477.60" y1="105.9" x2="477.60" y2="108.30000000000001" stroke="#707070" stroke-width="0.65"/>
<line x1="505.00" y1="105.9" x2="505.00" y2="108.30000000000001" stroke="#707070" stroke-width="0.65"/>
<line x1="532.40" y1="105.9" x2="532.40" y2="108.30000000000001" stroke="#707070" stroke-width="0.65"/>
<line x1="410.60" y1="105.30" x2="435.00" y2="105.30" stroke="#a8a8a8" stroke-width="0.7"/>
<line x1="422.80" y1="105.40" x2="422.80" y2="90.00" stroke="#8e8e8e" stroke-width="0.65"/>
<path d="M437.80,105.10 L462.60,105.10 C461.43,104.93 457.45,104.45 455.60,104.10 C453.75,103.75 452.25,103.55 451.50,103.00 C450.75,102.45 450.97,101.80 451.10,100.80 C451.23,99.80 452.07,98.17 452.30,97.00 C452.53,95.83 452.67,94.87 452.50,93.80 C452.33,92.73 451.68,91.77 451.30,90.60 C450.92,89.43 450.38,87.43 450.20,86.80 L450.20,86.80 C450.02,87.43 449.48,89.43 449.10,90.60 C448.72,91.77 448.07,92.73 447.90,93.80 C447.73,94.87 447.87,95.83 448.10,97.00 C448.33,98.17 449.17,99.80 449.30,100.80 C449.43,101.80 449.65,102.45 448.90,103.00 C448.15,103.55 446.65,103.75 444.80,104.10 C442.95,104.45 438.97,104.93 437.80,105.10 Z" fill="#A3A500" stroke="#404040" stroke-width="0.6" stroke-linejoin="round"/>
<path d="M465.40,105.10 L489.80,105.10 C488.68,104.93 484.87,104.45 483.10,104.10 C481.33,103.75 479.92,103.45 479.20,103.00 C478.48,102.55 478.63,102.08 478.80,101.40 C478.97,100.72 479.88,99.73 480.20,98.90 C480.52,98.07 480.77,97.23 480.70,96.40 C480.63,95.57 480.17,94.65 479.80,93.90 C479.43,93.15 478.87,92.48 478.50,91.90 C478.13,91.32 477.75,90.65 477.60,90.40 L477.60,90.40 C477.45,90.65 477.07,91.32 476.70,91.90 C476.33,92.48 475.77,93.15 475.40,93.90 C475.03,94.65 474.57,95.57 474.50,96.40 C474.43,97.23 474.68,98.07 475.00,98.90 C475.32,99.73 476.23,100.72 476.40,101.40 C476.57,102.08 476.72,102.55 476.00,103.00 C475.28,103.45 473.87,103.75 472.10,104.10 C470.33,104.45 466.52,104.93 465.40,105.10 Z" fill="#33B97A" stroke="#404040" stroke-width="0.6" stroke-linejoin="round"/>
<line x1="492.80" y1="105.30" x2="517.20" y2="105.30" stroke="#a8a8a8" stroke-width="0.7"/>
<line x1="505.00" y1="105.40" x2="505.00" y2="95.70" stroke="#8e8e8e" stroke-width="0.65"/>
<line x1="520.20" y1="105.30" x2="544.60" y2="105.30" stroke="#a8a8a8" stroke-width="0.7"/>
<line x1="532.40" y1="105.40" x2="532.40" y2="93.50" stroke="#8e8e8e" stroke-width="0.65"/>
<text x="393.10" y="103.5"  font-size="14.8" font-style="italic" text-anchor="end">Wfs1</text>
<line x1="407.9" y1="128.8" x2="549.4" y2="128.8" stroke="#ABABAB" stroke-width="1.1"/>
<line x1="423.00" y1="128.8" x2="423.00" y2="131.20000000000002" stroke="#707070" stroke-width="0.65"/>
<line x1="450.30" y1="128.8" x2="450.30" y2="131.20000000000002" stroke="#707070" stroke-width="0.65"/>
<line x1="477.60" y1="128.8" x2="477.60" y2="131.20000000000002" stroke="#707070" stroke-width="0.65"/>
<line x1="504.90" y1="128.8" x2="504.90" y2="131.20000000000002" stroke="#707070" stroke-width="0.65"/>
<line x1="532.20" y1="128.8" x2="532.20" y2="131.20000000000002" stroke="#707070" stroke-width="0.65"/>
<line x1="410.80" y1="128.20" x2="435.20" y2="128.20" stroke="#a8a8a8" stroke-width="0.7"/>
<line x1="423.00" y1="128.30" x2="423.00" y2="113.00" stroke="#8e8e8e" stroke-width="0.65"/>
<path d="M437.80,128.10 L462.80,128.10 C461.73,127.97 458.20,127.65 456.40,127.30 C454.60,126.95 452.78,126.47 452.00,126.00 C451.22,125.53 451.53,125.27 451.70,124.50 C451.87,123.73 452.63,122.58 453.00,121.40 C453.37,120.22 454.00,118.58 453.90,117.40 C453.80,116.22 453.00,115.50 452.40,114.30 C451.80,113.10 450.65,110.88 450.30,110.20 L450.30,110.20 C449.95,110.88 448.80,113.10 448.20,114.30 C447.60,115.50 446.80,116.22 446.70,117.40 C446.60,118.58 447.23,120.22 447.60,121.40 C447.97,122.58 448.73,123.73 448.90,124.50 C449.07,125.27 449.38,125.53 448.60,126.00 C447.82,126.47 446.00,126.95 444.20,127.30 C442.40,127.65 438.87,127.97 437.80,128.10 Z" fill="#A3A500" stroke="#404040" stroke-width="0.6" stroke-linejoin="round"/>
<path d="M465.30,128.10 L489.90,128.10 C488.87,127.97 485.52,127.65 483.70,127.30 C481.88,126.95 479.83,126.55 479.00,126.00 C478.17,125.45 478.62,124.85 478.70,124.00 C478.78,123.15 479.27,121.83 479.50,120.90 C479.73,119.97 480.18,119.33 480.10,118.40 C480.02,117.47 479.42,116.33 479.00,115.30 C478.58,114.27 477.83,112.72 477.60,112.20 L477.60,112.20 C477.37,112.72 476.62,114.27 476.20,115.30 C475.78,116.33 475.18,117.47 475.10,118.40 C475.02,119.33 475.47,119.97 475.70,120.90 C475.93,121.83 476.42,123.15 476.50,124.00 C476.58,124.85 477.03,125.45 476.20,126.00 C475.37,126.55 473.32,126.95 471.50,127.30 C469.68,127.65 466.33,127.97 465.30,128.10 Z" fill="#33B97A" stroke="#404040" stroke-width="0.6" stroke-linejoin="round"/>
<line x1="492.70" y1="128.20" x2="517.10" y2="128.20" stroke="#a8a8a8" stroke-width="0.7"/>
<line x1="504.90" y1="128.30" x2="504.90" y2="116.70" stroke="#8e8e8e" stroke-width="0.65"/>
<path d="M520.50,128.00 L543.90,128.00 C543.10,127.70 540.70,127.03 539.10,126.20 C537.50,125.37 535.03,123.98 534.30,123.00 C533.57,122.02 534.60,121.18 534.70,120.30 C534.80,119.42 534.83,118.75 534.90,117.70 C534.97,116.65 535.55,114.63 535.10,114.00 C534.65,113.37 532.68,113.92 532.20,113.90 L532.20,113.90 C531.72,113.92 529.75,113.37 529.30,114.00 C528.85,114.63 529.43,116.65 529.50,117.70 C529.57,118.75 529.60,119.42 529.70,120.30 C529.80,121.18 530.83,122.02 530.10,123.00 C529.37,123.98 526.90,125.37 525.30,126.20 C523.70,127.03 521.30,127.70 520.50,128.00 Z" fill="#E76BF2" stroke="#404040" stroke-width="0.6" stroke-linejoin="round"/>
<text x="397.20" y="126.2"  font-size="14.8" font-style="italic" text-anchor="end">Chrdl1</text>
<line x1="407.9" y1="154.8" x2="549.4" y2="154.8" stroke="#ABABAB" stroke-width="1.1"/>
<line x1="423.00" y1="154.8" x2="423.00" y2="157.20000000000002" stroke="#707070" stroke-width="0.65"/>
<line x1="450.30" y1="154.8" x2="450.30" y2="157.20000000000002" stroke="#707070" stroke-width="0.65"/>
<line x1="477.60" y1="154.8" x2="477.60" y2="157.20000000000002" stroke="#707070" stroke-width="0.65"/>
<line x1="504.90" y1="154.8" x2="504.90" y2="157.20000000000002" stroke="#707070" stroke-width="0.65"/>
<line x1="532.20" y1="154.8" x2="532.20" y2="157.20000000000002" stroke="#707070" stroke-width="0.65"/>
<line x1="410.80" y1="154.20" x2="435.20" y2="154.20" stroke="#a8a8a8" stroke-width="0.7"/>
<line x1="423.00" y1="154.30" x2="423.00" y2="138.80" stroke="#8e8e8e" stroke-width="0.65"/>
<path d="M437.80,154.10 L462.80,154.10 C461.82,153.97 458.70,153.70 456.90,153.30 C455.10,152.90 452.88,152.25 452.00,151.70 C451.12,151.15 451.37,150.88 451.60,150.00 C451.83,149.12 453.02,147.60 453.40,146.40 C453.78,145.20 454.07,143.82 453.90,142.80 C453.73,141.78 453.00,141.40 452.40,140.30 C451.80,139.20 450.65,136.88 450.30,136.20 L450.30,136.20 C449.95,136.88 448.80,139.20 448.20,140.30 C447.60,141.40 446.87,141.78 446.70,142.80 C446.53,143.82 446.82,145.20 447.20,146.40 C447.58,147.60 448.77,149.12 449.00,150.00 C449.23,150.88 449.48,151.15 448.60,151.70 C447.72,152.25 445.50,152.90 443.70,153.30 C441.90,153.70 438.78,153.97 437.80,154.10 Z" fill="#A3A500" stroke="#404040" stroke-width="0.6" stroke-linejoin="round"/>
<path d="M465.10,154.10 L490.10,154.10 C489.08,153.97 485.82,153.70 484.00,153.30 C482.18,152.90 480.03,152.25 479.20,151.70 C478.37,151.15 478.78,150.80 479.00,150.00 C479.22,149.20 480.05,147.92 480.50,146.90 C480.95,145.88 481.85,144.92 481.70,143.90 C481.55,142.88 480.28,141.92 479.60,140.80 C478.92,139.68 477.93,137.80 477.60,137.20 L477.60,137.20 C477.27,137.80 476.28,139.68 475.60,140.80 C474.92,141.92 473.65,142.88 473.50,143.90 C473.35,144.92 474.25,145.88 474.70,146.90 C475.15,147.92 475.98,149.20 476.20,150.00 C476.42,150.80 476.83,151.15 476.00,151.70 C475.17,152.25 473.02,152.90 471.20,153.30 C469.38,153.70 466.12,153.97 465.10,154.10 Z" fill="#33B97A" stroke="#404040" stroke-width="0.6" stroke-linejoin="round"/>
<line x1="492.70" y1="154.20" x2="517.10" y2="154.20" stroke="#a8a8a8" stroke-width="0.7"/>
<line x1="504.90" y1="154.30" x2="504.90" y2="140.90" stroke="#8e8e8e" stroke-width="0.65"/>
<line x1="520.00" y1="154.20" x2="544.40" y2="154.20" stroke="#a8a8a8" stroke-width="0.7"/>
<text x="395.70" y="151.8"  font-size="14.8" font-style="italic" text-anchor="end">Lrtm2</text>
<line x1="407.9" y1="180.5" x2="549.4" y2="180.5" stroke="#ABABAB" stroke-width="1.1"/>
<line x1="423.10" y1="180.5" x2="423.10" y2="182.9" stroke="#707070" stroke-width="0.65"/>
<line x1="450.50" y1="180.5" x2="450.50" y2="182.9" stroke="#707070" stroke-width="0.65"/>
<line x1="477.90" y1="180.5" x2="477.90" y2="182.9" stroke="#707070" stroke-width="0.65"/>
<line x1="505.30" y1="180.5" x2="505.30" y2="182.9" stroke="#707070" stroke-width="0.65"/>
<line x1="532.70" y1="180.5" x2="532.70" y2="182.9" stroke="#707070" stroke-width="0.65"/>
<path d="M411.00,179.30 L435.20,179.30 C434.72,179.03 433.55,178.22 432.30,177.70 C431.05,177.18 428.85,176.80 427.70,176.20 C426.55,175.60 426.00,174.87 425.40,174.10 C424.80,173.33 424.27,172.45 424.10,171.60 C423.93,170.75 424.40,169.87 424.40,169.00 C424.40,168.13 424.23,167.25 424.10,166.40 C423.97,165.55 423.77,164.40 423.60,163.90 C423.43,163.40 423.18,163.48 423.10,163.40 L423.10,163.40 C423.02,163.48 422.77,163.40 422.60,163.90 C422.43,164.40 422.23,165.55 422.10,166.40 C421.97,167.25 421.80,168.13 421.80,169.00 C421.80,169.87 422.27,170.75 422.10,171.60 C421.93,172.45 421.40,173.33 420.80,174.10 C420.20,174.87 419.65,175.60 418.50,176.20 C417.35,176.80 415.15,177.18 413.90,177.70 C412.65,178.22 411.48,179.03 411.00,179.30 Z" fill="#F7766D" stroke="#404040" stroke-width="0.6" stroke-linejoin="round"/>
<path d="M438.10,179.60 L462.90,179.60 C462.87,179.48 463.02,179.23 462.70,178.90 C462.38,178.57 461.87,178.10 461.00,177.60 C460.13,177.10 458.55,176.55 457.50,175.90 C456.45,175.25 455.32,174.37 454.70,173.70 C454.08,173.03 453.95,172.48 453.80,171.90 C453.65,171.32 453.77,170.85 453.80,170.20 C453.83,169.55 454.15,168.67 454.00,168.00 C453.85,167.33 453.27,166.78 452.90,166.20 C452.53,165.62 452.20,165.30 451.80,164.50 C451.40,163.70 450.72,161.92 450.50,161.40 L450.50,161.40 C450.28,161.92 449.60,163.70 449.20,164.50 C448.80,165.30 448.47,165.62 448.10,166.20 C447.73,166.78 447.15,167.33 447.00,168.00 C446.85,168.67 447.17,169.55 447.20,170.20 C447.23,170.85 447.35,171.32 447.20,171.90 C447.05,172.48 446.92,173.03 446.30,173.70 C445.68,174.37 444.55,175.25 443.50,175.90 C442.45,176.55 440.87,177.10 440.00,177.60 C439.13,178.10 438.62,178.57 438.30,178.90 C437.98,179.23 438.13,179.48 438.10,179.60 Z" fill="#A3A500" stroke="#404040" stroke-width="0.6" stroke-linejoin="round"/>
<path d="M465.60,179.60 L490.20,179.60 C490.17,179.48 490.23,179.23 490.00,178.90 C489.77,178.57 489.65,178.10 488.80,177.60 C487.95,177.10 486.13,176.48 484.90,175.90 C483.67,175.32 482.15,174.77 481.40,174.10 C480.65,173.43 480.57,172.70 480.40,171.90 C480.23,171.10 480.53,170.03 480.40,169.30 C480.28,168.57 479.89,168.08 479.65,167.50 C479.41,166.92 479.24,166.40 478.95,165.80 C478.66,165.20 478.08,164.22 477.90,163.90 L477.90,163.90 C477.73,164.22 477.14,165.20 476.85,165.80 C476.56,166.40 476.39,166.92 476.15,167.50 C475.91,168.08 475.53,168.57 475.40,169.30 C475.28,170.03 475.57,171.10 475.40,171.90 C475.23,172.70 475.15,173.43 474.40,174.10 C473.65,174.77 472.13,175.32 470.90,175.90 C469.67,176.48 467.85,177.10 467.00,177.60 C466.15,178.10 466.03,178.57 465.80,178.90 C465.57,179.23 465.63,179.48 465.60,179.60 Z" fill="#33B97A" stroke="#404040" stroke-width="0.6" stroke-linejoin="round"/>
<path d="M493.50,179.70 L517.10,179.70 C516.02,179.57 512.35,179.20 510.60,178.90 C508.85,178.60 507.40,178.35 506.60,177.90 C505.80,177.45 505.97,177.58 505.80,176.20 C505.63,174.82 505.68,170.77 505.60,169.60 C505.52,168.43 505.35,169.27 505.30,169.20 L505.30,169.20 C505.25,169.27 505.08,168.43 505.00,169.60 C504.92,170.77 504.97,174.82 504.80,176.20 C504.63,177.58 504.80,177.45 504.00,177.90 C503.20,178.35 501.75,178.60 500.00,178.90 C498.25,179.20 494.58,179.57 493.50,179.70 Z" fill="#2AABEE" stroke="#404040" stroke-width="0.6" stroke-linejoin="round"/>
<line x1="520.50" y1="179.90" x2="544.90" y2="179.90" stroke="#a8a8a8" stroke-width="0.7"/>
<line x1="532.70" y1="180.00" x2="532.70" y2="177.50" stroke="#8e8e8e" stroke-width="0.65"/>
<text x="397.50" y="176.7"  font-size="14.8" font-style="italic" text-anchor="end">Sema4b</text>
<line x1="407.9" y1="206.1" x2="549.4" y2="206.1" stroke="#ABABAB" stroke-width="1.1"/>
<line x1="423.10" y1="206.1" x2="423.10" y2="208.5" stroke="#707070" stroke-width="0.65"/>
<line x1="450.55" y1="206.1" x2="450.55" y2="208.5" stroke="#707070" stroke-width="0.65"/>
<line x1="478.00" y1="206.1" x2="478.00" y2="208.5" stroke="#707070" stroke-width="0.65"/>
<line x1="505.45" y1="206.1" x2="505.45" y2="208.5" stroke="#707070" stroke-width="0.65"/>
<line x1="532.90" y1="206.1" x2="532.90" y2="208.5" stroke="#707070" stroke-width="0.65"/>
<path d="M410.90,205.30 L435.30,205.30 C434.52,205.13 432.25,204.70 430.60,204.30 C428.95,203.90 426.40,203.42 425.40,202.90 C424.40,202.38 424.33,202.02 424.60,201.20 C424.87,200.38 426.38,199.17 427.00,198.00 C427.62,196.83 428.42,195.37 428.30,194.20 C428.18,193.03 427.00,191.98 426.30,191.00 C425.60,190.02 424.63,189.02 424.10,188.30 C423.57,187.58 423.27,186.97 423.10,186.70 L423.10,186.70 C422.93,186.97 422.63,187.58 422.10,188.30 C421.57,189.02 420.60,190.02 419.90,191.00 C419.20,191.98 418.02,193.03 417.90,194.20 C417.78,195.37 418.58,196.83 419.20,198.00 C419.82,199.17 421.33,200.38 421.60,201.20 C421.87,202.02 421.80,202.38 420.80,202.90 C419.80,203.42 417.25,203.90 415.60,204.30 C413.95,204.70 411.68,205.13 410.90,205.30 Z" fill="#F7766D" stroke="#404040" stroke-width="0.6" stroke-linejoin="round"/>
<path d="M441.05,205.30 L460.05,205.30 C459.50,205.07 457.73,204.48 456.75,203.90 C455.77,203.32 454.33,202.60 454.15,201.80 C453.97,201.00 454.50,200.10 455.65,199.10 C456.80,198.10 459.85,196.80 461.05,195.80 C462.25,194.80 463.33,194.00 462.85,193.10 C462.37,192.20 459.88,191.30 458.15,190.40 C456.42,189.50 453.72,188.38 452.45,187.70 C451.18,187.02 450.87,186.53 450.55,186.30 L450.55,186.30 C450.23,186.53 449.92,187.02 448.65,187.70 C447.38,188.38 444.68,189.50 442.95,190.40 C441.22,191.30 438.73,192.20 438.25,193.10 C437.77,194.00 438.85,194.80 440.05,195.80 C441.25,196.80 444.30,198.10 445.45,199.10 C446.60,200.10 447.13,201.00 446.95,201.80 C446.77,202.60 445.33,203.32 444.35,203.90 C443.37,204.48 441.60,205.07 441.05,205.30 Z" fill="#A3A500" stroke="#404040" stroke-width="0.6" stroke-linejoin="round"/>
<path d="M465.70,205.40 L490.30,205.40 C489.57,205.23 487.30,204.78 485.90,204.40 C484.50,204.02 482.23,203.75 481.90,203.10 C481.57,202.45 482.75,201.48 483.90,200.50 C485.05,199.52 487.78,198.20 488.80,197.20 C489.82,196.20 490.70,195.38 490.00,194.50 C489.30,193.62 486.23,192.77 484.60,191.90 C482.97,191.03 481.30,189.95 480.20,189.30 C479.10,188.65 478.37,188.22 478.00,188.00 L478.00,188.00 C477.63,188.22 476.90,188.65 475.80,189.30 C474.70,189.95 473.03,191.03 471.40,191.90 C469.77,192.77 466.70,193.62 466.00,194.50 C465.30,195.38 466.18,196.20 467.20,197.20 C468.22,198.20 470.95,199.52 472.10,200.50 C473.25,201.48 474.43,202.45 474.10,203.10 C473.77,203.75 471.50,204.02 470.10,204.40 C468.70,204.78 466.43,205.23 465.70,205.40 Z" fill="#33B97A" stroke="#404040" stroke-width="0.6" stroke-linejoin="round"/>
<line x1="493.25" y1="205.50" x2="517.65" y2="205.50" stroke="#a8a8a8" stroke-width="0.7"/>
<line x1="505.45" y1="205.60" x2="505.45" y2="193.90" stroke="#8e8e8e" stroke-width="0.65"/>
<line x1="520.70" y1="205.50" x2="545.10" y2="205.50" stroke="#a8a8a8" stroke-width="0.7"/>
<line x1="532.90" y1="205.60" x2="532.90" y2="192.80" stroke="#8e8e8e" stroke-width="0.65"/>
<text x="395.50" y="201.6"  font-size="14.8" font-style="italic" text-anchor="end">Mertk</text>
<line x1="407.4" y1="232.0" x2="548.9" y2="232.0" stroke="#ABABAB" stroke-width="1.1"/>
<line x1="422.80" y1="232.0" x2="422.80" y2="234.4" stroke="#707070" stroke-width="0.65"/>
<line x1="450.25" y1="232.0" x2="450.25" y2="234.4" stroke="#707070" stroke-width="0.65"/>
<line x1="477.70" y1="232.0" x2="477.70" y2="234.4" stroke="#707070" stroke-width="0.65"/>
<line x1="505.15" y1="232.0" x2="505.15" y2="234.4" stroke="#707070" stroke-width="0.65"/>
<line x1="532.60" y1="232.0" x2="532.60" y2="234.4" stroke="#707070" stroke-width="0.65"/>
<path d="M410.40,231.20 L435.20,231.20 C434.40,231.03 432.02,230.60 430.40,230.20 C428.78,229.80 426.50,229.30 425.50,228.80 C424.50,228.30 423.87,227.97 424.40,227.20 C424.93,226.43 427.73,225.15 428.70,224.20 C429.67,223.25 430.20,222.40 430.20,221.50 C430.20,220.60 429.40,219.70 428.70,218.80 C428.00,217.90 426.88,217.00 426.00,216.10 C425.12,215.20 423.93,213.98 423.40,213.40 C422.87,212.82 422.90,212.73 422.80,212.60 L422.80,212.60 C422.70,212.73 422.73,212.82 422.20,213.40 C421.67,213.98 420.48,215.20 419.60,216.10 C418.72,217.00 417.60,217.90 416.90,218.80 C416.20,219.70 415.40,220.60 415.40,221.50 C415.40,222.40 415.93,223.25 416.90,224.20 C417.87,225.15 420.67,226.43 421.20,227.20 C421.73,227.97 421.10,228.30 420.10,228.80 C419.10,229.30 416.82,229.80 415.20,230.20 C413.58,230.60 411.20,231.03 410.40,231.20 Z" fill="#F7766D" stroke="#404040" stroke-width="0.6" stroke-linejoin="round"/>
<line x1="438.05" y1="231.40" x2="462.45" y2="231.40" stroke="#a8a8a8" stroke-width="0.7"/>
<line x1="450.25" y1="231.50" x2="450.25" y2="217.20" stroke="#8e8e8e" stroke-width="0.65"/>
<path d="M465.40,231.30 L490.00,231.30 C489.15,231.13 486.52,230.68 484.90,230.30 C483.28,229.92 480.52,229.65 480.30,229.00 C480.08,228.35 482.80,227.28 483.60,226.40 C484.40,225.52 485.10,224.58 485.10,223.70 C485.10,222.82 484.40,222.08 483.60,221.10 C482.80,220.12 481.28,218.90 480.30,217.80 C479.32,216.70 478.13,215.05 477.70,214.50 L477.70,214.50 C477.27,215.05 476.08,216.70 475.10,217.80 C474.12,218.90 472.60,220.12 471.80,221.10 C471.00,222.08 470.30,222.82 470.30,223.70 C470.30,224.58 471.00,225.52 471.80,226.40 C472.60,227.28 475.32,228.35 475.10,229.00 C474.88,229.65 472.12,229.92 470.50,230.30 C468.88,230.68 466.25,231.13 465.40,231.30 Z" fill="#33B97A" stroke="#404040" stroke-width="0.6" stroke-linejoin="round"/>
<path d="M492.85,231.30 L517.45,231.30 C516.38,231.13 512.77,230.68 511.05,230.30 C509.33,229.92 507.73,229.65 507.15,229.00 C506.57,228.35 507.45,227.50 507.55,226.40 C507.65,225.30 507.93,223.62 507.75,222.40 C507.57,221.18 506.88,220.30 506.45,219.10 C506.02,217.90 505.37,215.85 505.15,215.20 L505.15,215.20 C504.93,215.85 504.28,217.90 503.85,219.10 C503.42,220.30 502.73,221.18 502.55,222.40 C502.37,223.62 502.65,225.30 502.75,226.40 C502.85,227.50 503.73,228.35 503.15,229.00 C502.57,229.65 500.97,229.92 499.25,230.30 C497.53,230.68 493.92,231.13 492.85,231.30 Z" fill="#2AABEE" stroke="#404040" stroke-width="0.6" stroke-linejoin="round"/>
<line x1="520.40" y1="231.40" x2="544.80" y2="231.40" stroke="#a8a8a8" stroke-width="0.7"/>
<line x1="532.60" y1="231.50" x2="532.60" y2="222.70" stroke="#8e8e8e" stroke-width="0.65"/>
<text x="397.00" y="227.3"  font-size="14.8" font-style="italic" text-anchor="end">Agt</text>
<line x1="407.4" y1="258.4" x2="548.9" y2="258.4" stroke="#ABABAB" stroke-width="1.1"/>
<line x1="422.60" y1="258.4" x2="422.60" y2="260.79999999999995" stroke="#707070" stroke-width="0.65"/>
<line x1="450.00" y1="258.4" x2="450.00" y2="260.79999999999995" stroke="#707070" stroke-width="0.65"/>
<line x1="477.40" y1="258.4" x2="477.40" y2="260.79999999999995" stroke="#707070" stroke-width="0.65"/>
<line x1="504.80" y1="258.4" x2="504.80" y2="260.79999999999995" stroke="#707070" stroke-width="0.65"/>
<line x1="532.20" y1="258.4" x2="532.20" y2="260.79999999999995" stroke="#707070" stroke-width="0.65"/>
<line x1="410.40" y1="257.80" x2="434.80" y2="257.80" stroke="#a8a8a8" stroke-width="0.7"/>
<line x1="422.60" y1="257.90" x2="422.60" y2="238.60" stroke="#8e8e8e" stroke-width="0.65"/>
<path d="M437.70,257.50 L462.30,257.50 C461.20,257.27 457.57,256.77 455.70,256.10 C453.82,255.43 451.67,254.45 451.05,253.50 C450.43,252.55 451.68,251.63 452.00,250.40 C452.32,249.17 453.07,247.35 453.00,246.10 C452.93,244.85 452.10,243.85 451.60,242.90 C451.10,241.95 450.27,240.82 450.00,240.40 L450.00,240.40 C449.73,240.82 448.90,241.95 448.40,242.90 C447.90,243.85 447.07,244.85 447.00,246.10 C446.93,247.35 447.68,249.17 448.00,250.40 C448.32,251.63 449.57,252.55 448.95,253.50 C448.33,254.45 446.18,255.43 444.30,256.10 C442.43,256.77 438.80,257.27 437.70,257.50 Z" fill="#A3A500" stroke="#404040" stroke-width="0.6" stroke-linejoin="round"/>
<path d="M465.10,257.50 L489.70,257.50 C488.60,257.27 484.93,256.77 483.10,256.10 C481.27,255.43 479.32,254.45 478.70,253.50 C478.08,252.55 479.18,251.42 479.40,250.40 C479.62,249.38 480.08,248.40 480.00,247.40 C479.92,246.40 479.33,245.37 478.90,244.40 C478.47,243.43 477.65,242.07 477.40,241.60 L477.40,241.60 C477.15,242.07 476.33,243.43 475.90,244.40 C475.47,245.37 474.88,246.40 474.80,247.40 C474.72,248.40 475.18,249.38 475.40,250.40 C475.62,251.42 476.72,252.55 476.10,253.50 C475.48,254.45 473.53,255.43 471.70,256.10 C469.87,256.77 466.20,257.27 465.10,257.50 Z" fill="#33B97A" stroke="#404040" stroke-width="0.6" stroke-linejoin="round"/>
<line x1="492.60" y1="257.80" x2="517.00" y2="257.80" stroke="#a8a8a8" stroke-width="0.7"/>
<line x1="504.80" y1="257.90" x2="504.80" y2="244.10" stroke="#8e8e8e" stroke-width="0.65"/>
<path d="M519.90,257.50 L544.50,257.50 C543.28,257.36 539.10,257.17 537.20,256.65 C535.30,256.13 533.78,255.51 533.10,254.40 C532.42,253.29 533.00,251.32 533.10,250.00 C533.20,248.68 533.75,247.52 533.70,246.50 C533.65,245.48 532.80,244.63 532.80,243.90 C532.80,243.17 533.80,242.60 533.70,242.10 C533.60,241.60 532.45,241.10 532.20,240.90 L532.20,240.90 C531.95,241.10 530.80,241.60 530.70,242.10 C530.60,242.60 531.60,243.17 531.60,243.90 C531.60,244.63 530.75,245.48 530.70,246.50 C530.65,247.52 531.20,248.68 531.30,250.00 C531.40,251.32 531.98,253.29 531.30,254.40 C530.62,255.51 529.10,256.13 527.20,256.65 C525.30,257.17 521.12,257.36 519.90,257.50 Z" fill="#E76BF2" stroke="#404040" stroke-width="0.6" stroke-linejoin="round"/>
<text x="397.00" y="251.4"  font-size="14.8" font-style="italic" text-anchor="end">Ndrg4</text>
<line x1="407.4" y1="282.2" x2="548.9" y2="282.2" stroke="#ABABAB" stroke-width="1.1"/>
<line x1="422.40" y1="282.2" x2="422.40" y2="284.59999999999997" stroke="#707070" stroke-width="0.65"/>
<line x1="449.90" y1="282.2" x2="449.90" y2="284.59999999999997" stroke="#707070" stroke-width="0.65"/>
<line x1="477.40" y1="282.2" x2="477.40" y2="284.59999999999997" stroke="#707070" stroke-width="0.65"/>
<line x1="504.90" y1="282.2" x2="504.90" y2="284.59999999999997" stroke="#707070" stroke-width="0.65"/>
<line x1="532.40" y1="282.2" x2="532.40" y2="284.59999999999997" stroke="#707070" stroke-width="0.65"/>
<path d="M410.00,281.40 L434.80,281.40 C433.95,281.23 431.45,280.80 429.70,280.40 C427.95,280.00 425.29,279.52 424.30,279.00 C423.31,278.48 423.57,278.12 423.75,277.30 C423.93,276.48 425.07,275.17 425.40,274.10 C425.72,273.03 425.90,271.98 425.70,270.90 C425.50,269.82 424.67,268.60 424.20,267.60 C423.73,266.60 423.20,265.70 422.90,264.90 C422.60,264.10 422.48,263.15 422.40,262.80 L422.40,262.80 C422.32,263.15 422.20,264.10 421.90,264.90 C421.60,265.70 421.07,266.60 420.60,267.60 C420.13,268.60 419.30,269.82 419.10,270.90 C418.90,271.98 419.07,273.03 419.40,274.10 C419.72,275.17 420.87,276.48 421.05,277.30 C421.23,278.12 421.49,278.48 420.50,279.00 C419.51,279.52 416.85,280.00 415.10,280.40 C413.35,280.80 410.85,281.23 410.00,281.40 Z" fill="#F7766D" stroke="#404040" stroke-width="0.6" stroke-linejoin="round"/>
<path d="M437.50,281.40 L462.30,281.40 C461.40,281.23 458.78,280.80 456.90,280.40 C455.02,280.00 452.03,279.60 451.00,279.00 C449.97,278.40 450.52,277.62 450.70,276.80 C450.88,275.98 451.75,275.00 452.10,274.10 C452.45,273.20 452.90,272.30 452.80,271.40 C452.70,270.50 451.88,269.60 451.50,268.70 C451.12,267.80 450.77,266.63 450.50,266.00 C450.23,265.37 450.00,265.08 449.90,264.90 L449.90,264.90 C449.80,265.08 449.57,265.37 449.30,266.00 C449.03,266.63 448.68,267.80 448.30,268.70 C447.92,269.60 447.10,270.50 447.00,271.40 C446.90,272.30 447.35,273.20 447.70,274.10 C448.05,275.00 448.92,275.98 449.10,276.80 C449.28,277.62 449.83,278.40 448.80,279.00 C447.77,279.60 444.78,280.00 442.90,280.40 C441.02,280.80 438.40,281.23 437.50,281.40 Z" fill="#A3A500" stroke="#404040" stroke-width="0.6" stroke-linejoin="round"/>
<path d="M465.10,281.50 L489.70,281.50 C488.80,281.33 485.97,280.88 484.30,280.50 C482.63,280.12 480.25,279.85 479.70,279.20 C479.15,278.55 480.53,277.70 481.00,276.60 C481.47,275.50 482.60,273.70 482.50,272.60 C482.40,271.50 481.25,270.98 480.40,270.00 C479.55,269.02 477.90,267.25 477.40,266.70 L477.40,266.70 C476.90,267.25 475.25,269.02 474.40,270.00 C473.55,270.98 472.40,271.50 472.30,272.60 C472.20,273.70 473.33,275.50 473.80,276.60 C474.27,277.70 475.65,278.55 475.10,279.20 C474.55,279.85 472.17,280.12 470.50,280.50 C468.83,280.88 466.00,281.33 465.10,281.50 Z" fill="#33B97A" stroke="#404040" stroke-width="0.6" stroke-linejoin="round"/>
<path d="M493.10,281.50 L516.70,281.50 C516.05,281.28 514.00,280.70 512.80,280.20 C511.60,279.70 509.50,279.22 509.50,278.50 C509.50,277.78 511.78,276.98 512.80,275.90 C513.82,274.82 515.65,273.20 515.60,272.00 C515.55,270.80 513.90,269.80 512.50,268.70 C511.10,267.60 508.47,266.17 507.20,265.40 C505.93,264.63 505.28,264.32 504.90,264.10 L504.90,264.10 C504.52,264.32 503.87,264.63 502.60,265.40 C501.33,266.17 498.70,267.60 497.30,268.70 C495.90,269.80 494.25,270.80 494.20,272.00 C494.15,273.20 495.98,274.82 497.00,275.90 C498.02,276.98 500.30,277.78 500.30,278.50 C500.30,279.22 498.20,279.70 497.00,280.20 C495.80,280.70 493.75,281.28 493.10,281.50 Z" fill="#2AABEE" stroke="#404040" stroke-width="0.6" stroke-linejoin="round"/>
<path d="M520.40,281.50 L544.40,281.50 C543.88,281.28 542.48,280.80 541.30,280.20 C540.12,279.60 537.97,278.73 537.30,277.90 C536.63,277.07 537.08,276.18 537.30,275.20 C537.52,274.22 538.53,273.08 538.60,272.00 C538.67,270.92 538.30,269.80 537.70,268.70 C537.10,267.60 535.63,266.33 535.00,265.40 C534.37,264.47 534.33,263.52 533.90,263.10 C533.47,262.68 532.65,262.93 532.40,262.90 L532.40,262.90 C532.15,262.93 531.33,262.68 530.90,263.10 C530.47,263.52 530.43,264.47 529.80,265.40 C529.17,266.33 527.70,267.60 527.10,268.70 C526.50,269.80 526.13,270.92 526.20,272.00 C526.27,273.08 527.28,274.22 527.50,275.20 C527.72,276.18 528.17,277.07 527.50,277.90 C526.83,278.73 524.68,279.60 523.50,280.20 C522.32,280.80 520.92,281.28 520.40,281.50 Z" fill="#E76BF2" stroke="#404040" stroke-width="0.6" stroke-linejoin="round"/>
<text x="398.00" y="276.3"  font-size="14.8" font-style="italic" text-anchor="end">Ppp1ca</text>
<line x1="407.4" y1="307.3" x2="548.9" y2="307.3" stroke="#ABABAB" stroke-width="1.1"/>
<line x1="422.40" y1="307.3" x2="422.40" y2="309.7" stroke="#707070" stroke-width="0.65"/>
<line x1="449.90" y1="307.3" x2="449.90" y2="309.7" stroke="#707070" stroke-width="0.65"/>
<line x1="477.40" y1="307.3" x2="477.40" y2="309.7" stroke="#707070" stroke-width="0.65"/>
<line x1="504.90" y1="307.3" x2="504.90" y2="309.7" stroke="#707070" stroke-width="0.65"/>
<line x1="532.40" y1="307.3" x2="532.40" y2="309.7" stroke="#707070" stroke-width="0.65"/>
<path d="M421.60,306.50 L423.20,306.50 C423.15,306.37 422.81,306.10 422.90,305.70 C422.99,305.30 423.15,304.73 423.75,304.10 C424.35,303.47 425.14,302.72 426.50,301.90 C427.86,301.08 430.52,300.10 431.90,299.20 C433.28,298.30 434.90,297.32 434.80,296.50 C434.70,295.68 432.68,295.02 431.30,294.30 C429.92,293.58 427.85,292.92 426.50,292.20 C425.15,291.48 423.88,290.55 423.20,290.00 C422.52,289.45 422.53,289.08 422.40,288.90 L422.40,288.90 C422.27,289.08 422.28,289.45 421.60,290.00 C420.92,290.55 419.65,291.48 418.30,292.20 C416.95,292.92 414.88,293.58 413.50,294.30 C412.12,295.02 410.10,295.68 410.00,296.50 C409.90,297.32 411.52,298.30 412.90,299.20 C414.28,300.10 416.94,301.08 418.30,301.90 C419.66,302.72 420.45,303.47 421.05,304.10 C421.65,304.73 421.81,305.30 421.90,305.70 C421.99,306.10 421.65,306.37 421.60,306.50 Z" fill="#F7766D" stroke="#404040" stroke-width="0.6" stroke-linejoin="round"/>
<path d="M445.30,306.50 L454.50,306.50 C454.05,306.37 452.07,306.10 451.80,305.70 C451.53,305.30 451.78,304.73 452.90,304.10 C454.02,303.47 456.95,302.72 458.50,301.90 C460.05,301.08 461.70,300.02 462.20,299.20 C462.70,298.38 462.60,297.63 461.50,297.00 C460.40,296.37 457.22,295.93 455.60,295.40 C453.98,294.87 452.75,294.15 451.80,293.80 C450.85,293.45 450.22,293.38 449.90,293.30 L449.90,293.30 C449.58,293.38 448.95,293.45 448.00,293.80 C447.05,294.15 445.82,294.87 444.20,295.40 C442.58,295.93 439.40,296.37 438.30,297.00 C437.20,297.63 437.10,298.38 437.60,299.20 C438.10,300.02 439.75,301.08 441.30,301.90 C442.85,302.72 445.78,303.47 446.90,304.10 C448.02,304.73 448.27,305.30 448.00,305.70 C447.73,306.10 445.75,306.37 445.30,306.50 Z" fill="#A3A500" stroke="#404040" stroke-width="0.6" stroke-linejoin="round"/>
<path d="M476.90,306.60 L477.90,306.60 C477.97,306.28 477.53,305.47 478.30,304.70 C479.07,303.93 481.00,302.88 482.50,302.00 C484.00,301.12 486.10,300.27 487.30,299.40 C488.50,298.53 490.42,297.67 489.70,296.80 C488.98,295.93 485.05,295.08 483.00,294.20 C480.95,293.32 478.33,291.95 477.40,291.50 L477.40,291.50 C476.47,291.95 473.85,293.32 471.80,294.20 C469.75,295.08 465.82,295.93 465.10,296.80 C464.38,297.67 466.30,298.53 467.50,299.40 C468.70,300.27 470.80,301.12 472.30,302.00 C473.80,302.88 475.73,303.93 476.50,304.70 C477.27,305.47 476.83,306.28 476.90,306.60 Z" fill="#33B97A" stroke="#404040" stroke-width="0.6" stroke-linejoin="round"/>
<path d="M504.50,306.60 L505.30,306.60 C505.32,305.40 505.30,300.93 505.40,299.40 C505.50,297.87 504.95,298.17 505.90,297.40 C506.85,296.63 509.18,295.67 511.10,294.80 C513.02,293.93 517.40,292.97 517.40,292.20 C517.40,291.43 513.18,290.87 511.10,290.20 C509.02,289.53 505.93,288.53 504.90,288.20 L504.90,288.20 C503.87,288.53 500.78,289.53 498.70,290.20 C496.62,290.87 492.40,291.43 492.40,292.20 C492.40,292.97 496.78,293.93 498.70,294.80 C500.62,295.67 502.95,296.63 503.90,297.40 C504.85,298.17 504.30,297.87 504.40,299.40 C504.50,300.93 504.48,305.40 504.50,306.60 Z" fill="#2AABEE" stroke="#404040" stroke-width="0.6" stroke-linejoin="round"/>
<path d="M531.40,305.60 L533.40,305.60 C533.45,305.12 533.15,303.62 533.70,302.70 C534.25,301.78 535.43,300.98 536.70,300.10 C537.97,299.22 539.97,298.28 541.30,297.40 C542.63,296.52 544.70,295.67 544.70,294.80 C544.70,293.93 542.75,293.07 541.30,292.20 C539.85,291.33 537.10,290.15 536.00,289.60 C534.90,289.05 535.30,289.03 534.70,288.90 C534.10,288.77 532.78,288.82 532.40,288.80 L532.40,288.80 C532.02,288.82 530.70,288.77 530.10,288.90 C529.50,289.03 529.90,289.05 528.80,289.60 C527.70,290.15 524.95,291.33 523.50,292.20 C522.05,293.07 520.10,293.93 520.10,294.80 C520.10,295.67 522.17,296.52 523.50,297.40 C524.83,298.28 526.83,299.22 528.10,300.10 C529.37,300.98 530.55,301.78 531.10,302.70 C531.65,303.62 531.35,305.12 531.40,305.60 Z" fill="#E76BF2" stroke="#404040" stroke-width="0.6" stroke-linejoin="round"/>
<text x="396.00" y="301.5"  font-size="14.8" font-style="italic" text-anchor="end">Dbi</text>
<line x1="405.3" y1="331.7" x2="546.8" y2="331.7" stroke="#ABABAB" stroke-width="1.1"/>
<line x1="421.60" y1="331.7" x2="421.60" y2="334.09999999999997" stroke="#707070" stroke-width="0.65"/>
<line x1="449.45" y1="331.7" x2="449.45" y2="334.09999999999997" stroke="#707070" stroke-width="0.65"/>
<line x1="477.30" y1="331.7" x2="477.30" y2="334.09999999999997" stroke="#707070" stroke-width="0.65"/>
<line x1="505.15" y1="331.7" x2="505.15" y2="334.09999999999997" stroke="#707070" stroke-width="0.65"/>
<line x1="533.00" y1="331.7" x2="533.00" y2="334.09999999999997" stroke="#707070" stroke-width="0.65"/>
<path d="M416.60,330.90 L426.60,330.90 C426.17,330.77 424.33,330.50 424.00,330.10 C423.67,329.70 423.78,329.22 424.60,328.50 C425.42,327.78 427.35,326.88 428.90,325.80 C430.45,324.72 433.18,323.18 433.90,322.00 C434.62,320.82 434.12,319.70 433.20,318.70 C432.28,317.70 429.93,316.90 428.40,316.00 C426.87,315.10 425.13,313.97 424.00,313.30 C422.87,312.63 422.00,312.22 421.60,312.00 L421.60,312.00 C421.20,312.22 420.33,312.63 419.20,313.30 C418.07,313.97 416.33,315.10 414.80,316.00 C413.27,316.90 410.92,317.70 410.00,318.70 C409.08,319.70 408.58,320.82 409.30,322.00 C410.02,323.18 412.75,324.72 414.30,325.80 C415.85,326.88 417.78,327.78 418.60,328.50 C419.42,329.22 419.53,329.70 419.20,330.10 C418.87,330.50 417.03,330.77 416.60,330.90 Z" fill="#F7766D" stroke="#404040" stroke-width="0.6" stroke-linejoin="round"/>
<path d="M449.05,330.80 L449.85,330.80 C449.87,330.05 449.82,327.42 449.95,326.30 C450.08,325.18 450.05,324.82 450.65,324.10 C451.25,323.38 452.32,322.80 453.55,322.00 C454.78,321.20 456.67,320.20 458.05,319.30 C459.43,318.40 462.20,317.42 461.85,316.60 C461.50,315.78 458.02,315.03 455.95,314.40 C453.88,313.77 450.53,313.07 449.45,312.80 L449.45,312.80 C448.37,313.07 445.02,313.77 442.95,314.40 C440.88,315.03 437.40,315.78 437.05,316.60 C436.70,317.42 439.47,318.40 440.85,319.30 C442.23,320.20 444.12,321.20 445.35,322.00 C446.58,322.80 447.65,323.38 448.25,324.10 C448.85,324.82 448.82,325.18 448.95,326.30 C449.08,327.42 449.03,330.05 449.05,330.80 Z" fill="#A3A500" stroke="#404040" stroke-width="0.6" stroke-linejoin="round"/>
<path d="M476.80,331.00 L477.80,331.00 C477.83,330.57 477.70,329.38 478.00,328.40 C478.30,327.42 478.45,326.08 479.60,325.10 C480.75,324.12 483.20,323.58 484.90,322.50 C486.60,321.42 490.13,319.70 489.80,318.60 C489.47,317.50 484.98,316.78 482.90,315.90 C480.82,315.02 478.23,313.73 477.30,313.30 L477.30,313.30 C476.37,313.73 473.78,315.02 471.70,315.90 C469.62,316.78 465.13,317.50 464.80,318.60 C464.47,319.70 468.00,321.42 469.70,322.50 C471.40,323.58 473.85,324.12 475.00,325.10 C476.15,326.08 476.30,327.42 476.60,328.40 C476.90,329.38 476.77,330.57 476.80,331.00 Z" fill="#33B97A" stroke="#404040" stroke-width="0.6" stroke-linejoin="round"/>
<path d="M492.75,331.00 L517.55,331.00 C516.68,330.78 514.08,330.23 512.35,329.70 C510.62,329.17 507.58,328.57 507.15,327.80 C506.72,327.03 509.20,326.10 509.75,325.10 C510.30,324.10 510.95,322.78 510.45,321.80 C509.95,320.82 507.63,319.73 506.75,319.20 C505.87,318.67 505.42,318.70 505.15,318.60 L505.15,318.60 C504.88,318.70 504.43,318.67 503.55,319.20 C502.67,319.73 500.35,320.82 499.85,321.80 C499.35,322.78 500.00,324.10 500.55,325.10 C501.10,326.10 503.58,327.03 503.15,327.80 C502.72,328.57 499.68,329.17 497.95,329.70 C496.22,330.23 493.62,330.78 492.75,331.00 Z" fill="#2AABEE" stroke="#404040" stroke-width="0.6" stroke-linejoin="round"/>
<line x1="520.80" y1="331.10" x2="545.20" y2="331.10" stroke="#a8a8a8" stroke-width="0.7"/>
<line x1="533.00" y1="331.20" x2="533.00" y2="320.10" stroke="#8e8e8e" stroke-width="0.65"/>
<text x="395.70" y="326.7"  font-size="14.8" font-style="italic" text-anchor="end">Slc7a10</text>
<line x1="405.3" y1="354.3" x2="546.8" y2="354.3" stroke="#ABABAB" stroke-width="1.1"/>
<line x1="421.70" y1="354.3" x2="421.70" y2="356.7" stroke="#707070" stroke-width="0.65"/>
<line x1="449.55" y1="354.3" x2="449.55" y2="356.7" stroke="#707070" stroke-width="0.65"/>
<line x1="477.40" y1="354.3" x2="477.40" y2="356.7" stroke="#707070" stroke-width="0.65"/>
<line x1="505.25" y1="354.3" x2="505.25" y2="356.7" stroke="#707070" stroke-width="0.65"/>
<line x1="533.10" y1="354.3" x2="533.10" y2="356.7" stroke="#707070" stroke-width="0.65"/>
<path d="M417.40,353.80 L426.00,353.80 C425.73,353.62 424.82,353.15 424.40,352.70 C423.98,352.25 422.97,351.82 423.50,351.10 C424.03,350.38 426.02,349.40 427.60,348.40 C429.18,347.40 431.88,346.10 433.00,345.10 C434.12,344.10 435.02,343.30 434.30,342.40 C433.58,341.50 430.40,340.60 428.70,339.70 C427.00,338.80 425.27,337.57 424.10,337.00 C422.93,336.43 422.10,336.42 421.70,336.30 L421.70,336.30 C421.30,336.42 420.47,336.43 419.30,337.00 C418.13,337.57 416.40,338.80 414.70,339.70 C413.00,340.60 409.82,341.50 409.10,342.40 C408.38,343.30 409.28,344.10 410.40,345.10 C411.52,346.10 414.22,347.40 415.80,348.40 C417.38,349.40 419.37,350.38 419.90,351.10 C420.43,351.82 419.42,352.25 419.00,352.70 C418.58,353.15 417.67,353.62 417.40,353.80 Z" fill="#F7766D" stroke="#404040" stroke-width="0.6" stroke-linejoin="round"/>
<path d="M447.35,353.80 L451.75,353.80 C451.57,353.52 450.65,352.73 450.65,352.10 C450.65,351.47 450.85,350.80 451.75,350.00 C452.65,349.20 454.53,348.30 456.05,347.30 C457.57,346.30 459.87,345.00 460.85,344.00 C461.83,343.00 462.57,342.10 461.95,341.30 C461.33,340.50 458.85,339.92 457.15,339.20 C455.45,338.48 453.02,337.67 451.75,337.00 C450.48,336.33 449.92,335.50 449.55,335.20 L449.55,335.20 C449.18,335.50 448.62,336.33 447.35,337.00 C446.08,337.67 443.65,338.48 441.95,339.20 C440.25,339.92 437.77,340.50 437.15,341.30 C436.53,342.10 437.27,343.00 438.25,344.00 C439.23,345.00 441.53,346.30 443.05,347.30 C444.57,348.30 446.45,349.20 447.35,350.00 C448.25,350.80 448.45,351.47 448.45,352.10 C448.45,352.73 447.53,353.52 447.35,353.80 Z" fill="#A3A500" stroke="#404040" stroke-width="0.6" stroke-linejoin="round"/>
<path d="M476.30,353.50 L478.50,353.50 C478.47,353.23 478.13,352.60 478.30,351.90 C478.47,351.20 478.38,350.28 479.50,349.30 C480.62,348.32 483.27,347.32 485.00,346.00 C486.73,344.68 490.02,342.60 489.90,341.40 C489.78,340.20 486.08,339.57 484.30,338.80 C482.52,338.03 480.35,337.23 479.20,336.80 C478.05,336.37 477.70,336.30 477.40,336.20 L477.40,336.20 C477.10,336.30 476.75,336.37 475.60,336.80 C474.45,337.23 472.28,338.03 470.50,338.80 C468.72,339.57 465.02,340.20 464.90,341.40 C464.78,342.60 468.07,344.68 469.80,346.00 C471.53,347.32 474.18,348.32 475.30,349.30 C476.42,350.28 476.33,351.20 476.50,351.90 C476.67,352.60 476.33,353.23 476.30,353.50 Z" fill="#33B97A" stroke="#404040" stroke-width="0.6" stroke-linejoin="round"/>
<path d="M492.85,353.50 L517.65,353.50 C516.90,353.28 514.75,352.72 513.15,352.20 C511.55,351.68 508.45,351.22 508.05,350.40 C507.65,349.58 510.45,348.35 510.75,347.30 C511.05,346.25 510.40,344.97 509.85,344.10 C509.30,343.23 508.22,342.55 507.45,342.10 C506.68,341.65 505.62,341.52 505.25,341.40 L505.25,341.40 C504.88,341.52 503.82,341.65 503.05,342.10 C502.28,342.55 501.20,343.23 500.65,344.10 C500.10,344.97 499.45,346.25 499.75,347.30 C500.05,348.35 502.85,349.58 502.45,350.40 C502.05,351.22 498.95,351.68 497.35,352.20 C495.75,352.72 493.60,353.28 492.85,353.50 Z" fill="#2AABEE" stroke="#404040" stroke-width="0.6" stroke-linejoin="round"/>
<path d="M532.60,353.90 L533.60,353.90 C533.68,353.57 534.02,352.67 534.10,351.90 C534.18,351.13 533.88,350.17 534.10,349.30 C534.32,348.43 533.87,347.57 535.40,346.70 C536.93,345.83 541.57,345.08 543.30,344.10 C545.03,343.12 545.70,341.90 545.80,340.80 C545.90,339.70 544.70,338.27 543.90,337.50 C543.10,336.73 542.80,336.45 541.00,336.20 C539.20,335.95 534.42,336.03 533.10,336.00 L533.10,336.00 C531.78,336.03 527.00,335.95 525.20,336.20 C523.40,336.45 523.10,336.73 522.30,337.50 C521.50,338.27 520.30,339.70 520.40,340.80 C520.50,341.90 521.17,343.12 522.90,344.10 C524.63,345.08 529.27,345.83 530.80,346.70 C532.33,347.57 531.88,348.43 532.10,349.30 C532.32,350.17 532.02,351.13 532.10,351.90 C532.18,352.67 532.52,353.57 532.60,353.90 Z" fill="#E76BF2" stroke="#404040" stroke-width="0.6" stroke-linejoin="round"/>
<text x="393.00" y="351.3"  font-size="14.8" font-style="italic" text-anchor="end">Glul</text>
<line x1="407.9" y1="377.8" x2="549.4" y2="377.8" stroke="#ABABAB" stroke-width="1.1"/>
<line x1="423.00" y1="377.8" x2="423.00" y2="380.2" stroke="#707070" stroke-width="0.65"/>
<line x1="450.35" y1="377.8" x2="450.35" y2="380.2" stroke="#707070" stroke-width="0.65"/>
<line x1="477.70" y1="377.8" x2="477.70" y2="380.2" stroke="#707070" stroke-width="0.65"/>
<line x1="505.05" y1="377.8" x2="505.05" y2="380.2" stroke="#707070" stroke-width="0.65"/>
<line x1="532.40" y1="377.8" x2="532.40" y2="380.2" stroke="#707070" stroke-width="0.65"/>
<line x1="410.80" y1="377.20" x2="435.20" y2="377.20" stroke="#a8a8a8" stroke-width="0.7"/>
<line x1="423.00" y1="377.30" x2="423.00" y2="363.10" stroke="#8e8e8e" stroke-width="0.65"/>
<line x1="438.15" y1="377.20" x2="462.55" y2="377.20" stroke="#a8a8a8" stroke-width="0.7"/>
<line x1="450.35" y1="377.30" x2="450.35" y2="362.00" stroke="#8e8e8e" stroke-width="0.65"/>
<line x1="465.50" y1="377.20" x2="489.90" y2="377.20" stroke="#a8a8a8" stroke-width="0.7"/>
<line x1="477.70" y1="377.30" x2="477.70" y2="363.10" stroke="#8e8e8e" stroke-width="0.65"/>
<path d="M492.65,377.10 L517.45,377.10 C516.58,376.93 513.90,376.53 512.25,376.10 C510.60,375.67 508.43,375.10 507.55,374.50 C506.67,373.90 506.95,373.27 506.95,372.50 C506.95,371.73 507.38,370.83 507.55,369.90 C507.72,368.97 507.97,367.83 507.95,366.90 C507.93,365.97 507.72,364.98 507.45,364.30 C507.18,363.62 506.75,363.17 506.35,362.80 C505.95,362.43 505.27,362.22 505.05,362.10 L505.05,362.10 C504.83,362.22 504.15,362.43 503.75,362.80 C503.35,363.17 502.92,363.62 502.65,364.30 C502.38,364.98 502.17,365.97 502.15,366.90 C502.13,367.83 502.38,368.97 502.55,369.90 C502.72,370.83 503.15,371.73 503.15,372.50 C503.15,373.27 503.43,373.90 502.55,374.50 C501.67,375.10 499.50,375.67 497.85,376.10 C496.20,376.53 493.52,376.93 492.65,377.10 Z" fill="#2AABEE" stroke="#404040" stroke-width="0.6" stroke-linejoin="round"/>
<line x1="520.20" y1="377.20" x2="544.60" y2="377.20" stroke="#a8a8a8" stroke-width="0.7"/>
<line x1="532.40" y1="377.30" x2="532.40" y2="372.00" stroke="#8e8e8e" stroke-width="0.65"/>
<text x="396.20" y="376.8"  font-size="14.8" font-style="italic" text-anchor="end">Gria1</text>
<line x1="407.9" y1="403.7" x2="549.4" y2="403.7" stroke="#ABABAB" stroke-width="1.1"/>
<line x1="423.20" y1="403.7" x2="423.20" y2="406.09999999999997" stroke="#707070" stroke-width="0.65"/>
<line x1="450.55" y1="403.7" x2="450.55" y2="406.09999999999997" stroke="#707070" stroke-width="0.65"/>
<line x1="477.90" y1="403.7" x2="477.90" y2="406.09999999999997" stroke="#707070" stroke-width="0.65"/>
<line x1="505.25" y1="403.7" x2="505.25" y2="406.09999999999997" stroke="#707070" stroke-width="0.65"/>
<line x1="532.60" y1="403.7" x2="532.60" y2="406.09999999999997" stroke="#707070" stroke-width="0.65"/>
<path d="M410.80,402.90 L435.60,402.90 C434.70,402.77 431.97,402.47 430.20,402.10 C428.43,401.73 425.80,401.25 425.00,400.70 C424.20,400.15 425.07,399.57 425.40,398.80 C425.73,398.03 426.63,397.00 427.00,396.10 C427.37,395.20 427.78,394.30 427.60,393.40 C427.42,392.50 426.55,391.60 425.90,390.70 C425.25,389.80 424.15,388.53 423.70,388.00 C423.25,387.47 423.28,387.58 423.20,387.50 L423.20,387.50 C423.12,387.58 423.15,387.47 422.70,388.00 C422.25,388.53 421.15,389.80 420.50,390.70 C419.85,391.60 418.98,392.50 418.80,393.40 C418.62,394.30 419.03,395.20 419.40,396.10 C419.77,397.00 420.67,398.03 421.00,398.80 C421.33,399.57 422.20,400.15 421.40,400.70 C420.60,401.25 417.97,401.73 416.20,402.10 C414.43,402.47 411.70,402.77 410.80,402.90 Z" fill="#F7766D" stroke="#404040" stroke-width="0.6" stroke-linejoin="round"/>
<path d="M438.15,402.90 L462.95,402.90 C462.02,402.77 459.10,402.47 457.35,402.10 C455.60,401.73 453.18,401.25 452.45,400.70 C451.72,400.15 452.55,399.57 452.95,398.80 C453.35,398.03 454.40,397.00 454.85,396.10 C455.30,395.20 455.87,394.30 455.65,393.40 C455.43,392.50 454.27,391.50 453.55,390.70 C452.83,389.90 451.85,389.05 451.35,388.60 C450.85,388.15 450.68,388.10 450.55,388.00 L450.55,388.00 C450.42,388.10 450.25,388.15 449.75,388.60 C449.25,389.05 448.27,389.90 447.55,390.70 C446.83,391.50 445.67,392.50 445.45,393.40 C445.23,394.30 445.80,395.20 446.25,396.10 C446.70,397.00 447.75,398.03 448.15,398.80 C448.55,399.57 449.38,400.15 448.65,400.70 C447.92,401.25 445.50,401.73 443.75,402.10 C442.00,402.47 439.08,402.77 438.15,402.90 Z" fill="#A3A500" stroke="#404040" stroke-width="0.6" stroke-linejoin="round"/>
<path d="M465.60,403.00 L490.20,403.00 C489.25,402.78 486.12,402.13 484.50,401.70 C482.88,401.27 480.83,400.95 480.50,400.40 C480.17,399.85 481.40,399.38 482.50,398.40 C483.60,397.42 486.98,395.58 487.10,394.50 C487.22,393.42 484.52,392.78 483.20,391.90 C481.88,391.02 480.08,389.75 479.20,389.20 C478.32,388.65 478.12,388.70 477.90,388.60 L477.90,388.60 C477.68,388.70 477.48,388.65 476.60,389.20 C475.72,389.75 473.92,391.02 472.60,391.90 C471.28,392.78 468.58,393.42 468.70,394.50 C468.82,395.58 472.20,397.42 473.30,398.40 C474.40,399.38 475.63,399.85 475.30,400.40 C474.97,400.95 472.92,401.27 471.30,401.70 C469.68,402.13 466.55,402.78 465.60,403.00 Z" fill="#33B97A" stroke="#404040" stroke-width="0.6" stroke-linejoin="round"/>
<line x1="493.05" y1="403.10" x2="517.45" y2="403.10" stroke="#a8a8a8" stroke-width="0.7"/>
<line x1="505.25" y1="403.20" x2="505.25" y2="396.90" stroke="#8e8e8e" stroke-width="0.65"/>
<line x1="520.40" y1="403.10" x2="544.80" y2="403.10" stroke="#a8a8a8" stroke-width="0.7"/>
<line x1="532.60" y1="403.20" x2="532.60" y2="390.30" stroke="#8e8e8e" stroke-width="0.65"/>
<text x="397.50" y="403.1"  font-size="14.8" font-style="italic" text-anchor="end">Gabrg1</text>
<line x1="407.9" y1="426.8" x2="549.4" y2="426.8" stroke="#ABABAB" stroke-width="1.1"/>
<line x1="423.00" y1="426.8" x2="423.00" y2="429.2" stroke="#707070" stroke-width="0.65"/>
<line x1="450.30" y1="426.8" x2="450.30" y2="429.2" stroke="#707070" stroke-width="0.65"/>
<line x1="477.60" y1="426.8" x2="477.60" y2="429.2" stroke="#707070" stroke-width="0.65"/>
<line x1="504.90" y1="426.8" x2="504.90" y2="429.2" stroke="#707070" stroke-width="0.65"/>
<line x1="532.20" y1="426.8" x2="532.20" y2="429.2" stroke="#707070" stroke-width="0.65"/>
<path d="M410.50,426.15 L435.50,426.15 C434.45,426.01 431.06,425.68 429.20,425.30 C427.34,424.93 425.25,424.58 424.35,423.90 C423.45,423.22 423.86,422.47 423.80,421.20 C423.74,419.93 424.00,417.57 424.00,416.30 C424.00,415.03 423.97,414.40 423.80,413.60 C423.63,412.80 423.13,411.85 423.00,411.50 L423.00,411.50 C422.87,411.85 422.37,412.80 422.20,413.60 C422.03,414.40 422.00,415.03 422.00,416.30 C422.00,417.57 422.26,419.93 422.20,421.20 C422.14,422.47 422.55,423.22 421.65,423.90 C420.75,424.58 418.66,424.93 416.80,425.30 C414.94,425.68 411.55,426.01 410.50,426.15 Z" fill="#F7766D" stroke="#404040" stroke-width="0.6" stroke-linejoin="round"/>
<path d="M437.90,426.15 L462.70,426.15 C461.77,426.01 458.90,425.68 457.10,425.30 C455.30,424.93 452.77,424.40 451.90,423.90 C451.03,423.40 451.53,423.02 451.90,422.30 C452.27,421.58 453.65,420.50 454.10,419.60 C454.55,418.70 454.87,417.80 454.60,416.90 C454.33,416.00 453.22,415.10 452.50,414.20 C451.78,413.30 450.67,411.95 450.30,411.50 L450.30,411.50 C449.93,411.95 448.82,413.30 448.10,414.20 C447.38,415.10 446.27,416.00 446.00,416.90 C445.73,417.80 446.05,418.70 446.50,419.60 C446.95,420.50 448.33,421.58 448.70,422.30 C449.07,423.02 449.57,423.40 448.70,423.90 C447.83,424.40 445.30,424.93 443.50,425.30 C441.70,425.68 438.83,426.01 437.90,426.15 Z" fill="#A3A500" stroke="#404040" stroke-width="0.6" stroke-linejoin="round"/>
<path d="M465.30,426.10 L489.90,426.10 C489.00,425.88 486.08,425.23 484.50,424.80 C482.92,424.37 480.73,424.27 480.40,423.50 C480.07,422.73 481.82,421.30 482.50,420.20 C483.18,419.10 484.77,417.98 484.50,416.90 C484.23,415.82 482.05,414.68 480.90,413.70 C479.75,412.72 478.15,411.45 477.60,411.00 L477.60,411.00 C477.05,411.45 475.45,412.72 474.30,413.70 C473.15,414.68 470.97,415.82 470.70,416.90 C470.43,417.98 472.02,419.10 472.70,420.20 C473.38,421.30 475.13,422.73 474.80,423.50 C474.47,424.27 472.28,424.37 470.70,424.80 C469.12,425.23 466.20,425.88 465.30,426.10 Z" fill="#33B97A" stroke="#404040" stroke-width="0.6" stroke-linejoin="round"/>
<line x1="492.70" y1="426.20" x2="517.10" y2="426.20" stroke="#a8a8a8" stroke-width="0.7"/>
<line x1="504.90" y1="426.30" x2="504.90" y2="414.70" stroke="#8e8e8e" stroke-width="0.65"/>
<path d="M519.80,426.10 L544.60,426.10 C543.95,425.88 542.12,425.33 540.70,424.80 C539.28,424.27 537.12,423.67 536.10,422.90 C535.08,422.13 534.67,421.08 534.60,420.20 C534.53,419.32 535.45,418.47 535.70,417.60 C535.95,416.73 536.17,415.55 536.10,415.00 C536.03,414.45 535.95,414.43 535.30,414.30 C534.65,414.17 532.72,414.22 532.20,414.20 L532.20,414.20 C531.68,414.22 529.75,414.17 529.10,414.30 C528.45,414.43 528.37,414.45 528.30,415.00 C528.23,415.55 528.45,416.73 528.70,417.60 C528.95,418.47 529.87,419.32 529.80,420.20 C529.73,421.08 529.32,422.13 528.30,422.90 C527.28,423.67 525.12,424.27 523.70,424.80 C522.28,425.33 520.45,425.88 519.80,426.10 Z" fill="#E76BF2" stroke="#404040" stroke-width="0.6" stroke-linejoin="round"/>
<text x="397.40" y="427.2"  font-size="14.8" font-style="italic" text-anchor="end">Kcnj16</text>
<line x1="407.9" y1="450.1" x2="549.4" y2="450.1" stroke="#ABABAB" stroke-width="1.1"/>
<line x1="422.50" y1="450.1" x2="422.50" y2="452.5" stroke="#707070" stroke-width="0.65"/>
<line x1="449.80" y1="450.1" x2="449.80" y2="452.5" stroke="#707070" stroke-width="0.65"/>
<line x1="477.10" y1="450.1" x2="477.10" y2="452.5" stroke="#707070" stroke-width="0.65"/>
<line x1="504.40" y1="450.1" x2="504.40" y2="452.5" stroke="#707070" stroke-width="0.65"/>
<line x1="531.70" y1="450.1" x2="531.70" y2="452.5" stroke="#707070" stroke-width="0.65"/>
<path d="M410.20,449.60 L434.80,449.60 C433.88,449.47 431.05,449.08 429.30,448.80 C427.55,448.52 425.27,448.50 424.30,447.90 C423.33,447.30 423.67,446.55 423.50,445.20 C423.33,443.85 423.38,441.23 423.30,439.80 C423.22,438.37 423.13,437.53 423.00,436.60 C422.87,435.67 422.58,434.60 422.50,434.20 L422.50,434.20 C422.42,434.60 422.13,435.67 422.00,436.60 C421.87,437.53 421.78,438.37 421.70,439.80 C421.62,441.23 421.67,443.85 421.50,445.20 C421.33,446.55 421.67,447.30 420.70,447.90 C419.73,448.50 417.45,448.52 415.70,448.80 C413.95,449.08 411.12,449.47 410.20,449.60 Z" fill="#F7766D" stroke="#404040" stroke-width="0.6" stroke-linejoin="round"/>
<path d="M437.40,449.60 L462.20,449.60 C461.30,449.47 458.50,449.13 456.80,448.80 C455.10,448.47 452.93,448.10 452.00,447.60 C451.07,447.10 451.23,446.73 451.20,445.80 C451.17,444.87 451.78,443.08 451.80,442.00 C451.82,440.92 451.50,440.20 451.30,439.30 C451.10,438.40 450.85,437.13 450.60,436.60 C450.35,436.07 449.93,436.18 449.80,436.10 L449.80,436.10 C449.67,436.18 449.25,436.07 449.00,436.60 C448.75,437.13 448.50,438.40 448.30,439.30 C448.10,440.20 447.78,440.92 447.80,442.00 C447.82,443.08 448.43,444.87 448.40,445.80 C448.37,446.73 448.53,447.10 447.60,447.60 C446.67,448.10 444.50,448.47 442.80,448.80 C441.10,449.13 438.30,449.47 437.40,449.60 Z" fill="#A3A500" stroke="#404040" stroke-width="0.6" stroke-linejoin="round"/>
<path d="M464.80,449.70 L489.40,449.70 C488.38,449.55 485.08,449.17 483.30,448.80 C481.52,448.43 479.52,448.27 478.70,447.50 C477.88,446.73 478.50,445.30 478.40,444.20 C478.30,443.10 478.32,441.88 478.10,440.90 C477.88,439.92 477.27,438.73 477.10,438.30 L477.10,438.30 C476.93,438.73 476.32,439.92 476.10,440.90 C475.88,441.88 475.90,443.10 475.80,444.20 C475.70,445.30 476.32,446.73 475.50,447.50 C474.68,448.27 472.68,448.43 470.90,448.80 C469.12,449.17 465.82,449.55 464.80,449.70 Z" fill="#33B97A" stroke="#404040" stroke-width="0.6" stroke-linejoin="round"/>
<path d="M492.00,449.70 L516.80,449.70 C516.18,449.55 514.23,449.28 513.10,448.80 C511.97,448.32 510.60,447.68 510.00,446.80 C509.40,445.92 509.82,444.60 509.50,443.50 C509.18,442.40 508.62,441.07 508.10,440.20 C507.58,439.33 507.02,438.77 506.40,438.30 C505.78,437.83 504.73,437.55 504.40,437.40 L504.40,437.40 C504.07,437.55 503.02,437.83 502.40,438.30 C501.78,438.77 501.22,439.33 500.70,440.20 C500.18,441.07 499.62,442.40 499.30,443.50 C498.98,444.60 499.40,445.92 498.80,446.80 C498.20,447.68 496.83,448.32 495.70,448.80 C494.57,449.28 492.62,449.55 492.00,449.70 Z" fill="#2AABEE" stroke="#404040" stroke-width="0.6" stroke-linejoin="round"/>
<path d="M519.50,449.70 L543.90,449.70 C543.13,449.55 540.93,449.17 539.30,448.80 C537.67,448.43 535.10,447.93 534.10,447.50 C533.10,447.07 533.30,446.87 533.30,446.20 C533.30,445.53 534.03,444.27 534.10,443.50 C534.17,442.73 534.10,442.10 533.70,441.60 C533.30,441.10 532.03,440.68 531.70,440.50 L531.70,440.50 C531.37,440.68 530.10,441.10 529.70,441.60 C529.30,442.10 529.23,442.73 529.30,443.50 C529.37,444.27 530.10,445.53 530.10,446.20 C530.10,446.87 530.30,447.07 529.30,447.50 C528.30,447.93 525.73,448.43 524.10,448.80 C522.47,449.17 520.27,449.55 519.50,449.70 Z" fill="#E76BF2" stroke="#404040" stroke-width="0.6" stroke-linejoin="round"/>
<text x="397.40" y="451.2"  font-size="14.8" font-style="italic" text-anchor="end">Kcnj10</text>
<line x1="408.4" y1="476.9" x2="549.9" y2="476.9" stroke="#ABABAB" stroke-width="1.1"/>
<line x1="423.90" y1="476.9" x2="423.90" y2="479.29999999999995" stroke="#707070" stroke-width="0.65"/>
<line x1="451.20" y1="476.9" x2="451.20" y2="479.29999999999995" stroke="#707070" stroke-width="0.65"/>
<line x1="478.50" y1="476.9" x2="478.50" y2="479.29999999999995" stroke="#707070" stroke-width="0.65"/>
<line x1="505.80" y1="476.9" x2="505.80" y2="479.29999999999995" stroke="#707070" stroke-width="0.65"/>
<line x1="533.10" y1="476.9" x2="533.10" y2="479.29999999999995" stroke="#707070" stroke-width="0.65"/>
<path d="M412.00,476.50 L435.80,476.50 C435.17,476.35 433.50,475.93 432.00,475.60 C430.50,475.27 427.78,474.90 426.80,474.50 C425.82,474.10 425.60,473.73 426.10,473.20 C426.60,472.67 428.25,472.17 429.80,471.30 C431.35,470.43 434.67,468.90 435.40,468.00 C436.13,467.10 435.30,466.62 434.20,465.90 C433.10,465.18 430.52,464.33 428.80,463.70 C427.08,463.07 424.72,462.37 423.90,462.10 L423.90,462.10 C423.08,462.37 420.72,463.07 419.00,463.70 C417.28,464.33 414.70,465.18 413.60,465.90 C412.50,466.62 411.67,467.10 412.40,468.00 C413.13,468.90 416.45,470.43 418.00,471.30 C419.55,472.17 421.20,472.67 421.70,473.20 C422.20,473.73 421.98,474.10 421.00,474.50 C420.02,474.90 417.30,475.27 415.80,475.60 C414.30,475.93 412.63,476.35 412.00,476.50 Z" fill="#F7766D" stroke="#404040" stroke-width="0.6" stroke-linejoin="round"/>
<path d="M448.50,476.50 L453.90,476.50 C453.63,476.35 452.67,476.02 452.30,475.60 C451.93,475.18 451.70,474.63 451.70,474.00 C451.70,473.37 451.67,472.52 452.30,471.80 C452.93,471.08 453.63,470.60 455.50,469.70 C457.37,468.80 462.78,467.22 463.50,466.40 C464.22,465.58 461.48,465.43 459.80,464.80 C458.12,464.17 454.83,463.23 453.40,462.60 C451.97,461.97 451.57,461.27 451.20,461.00 L451.20,461.00 C450.83,461.27 450.43,461.97 449.00,462.60 C447.57,463.23 444.28,464.17 442.60,464.80 C440.92,465.43 438.18,465.58 438.90,466.40 C439.62,467.22 445.03,468.80 446.90,469.70 C448.77,470.60 449.47,471.08 450.10,471.80 C450.73,472.52 450.70,473.37 450.70,474.00 C450.70,474.63 450.47,475.18 450.10,475.60 C449.73,476.02 448.77,476.35 448.50,476.50 Z" fill="#A3A500" stroke="#404040" stroke-width="0.6" stroke-linejoin="round"/>
<path d="M471.30,476.40 L485.70,476.40 C485.05,476.22 482.85,475.70 481.80,475.30 C480.75,474.90 479.30,474.50 479.40,474.00 C479.50,473.50 481.02,473.02 482.40,472.30 C483.78,471.58 486.28,470.52 487.70,469.70 C489.12,468.88 491.33,468.17 490.90,467.40 C490.47,466.63 487.17,465.93 485.10,465.10 C483.03,464.27 479.60,462.85 478.50,462.40 L478.50,462.40 C477.40,462.85 473.97,464.27 471.90,465.10 C469.83,465.93 466.53,466.63 466.10,467.40 C465.67,468.17 467.88,468.88 469.30,469.70 C470.72,470.52 473.22,471.58 474.60,472.30 C475.98,473.02 477.50,473.50 477.60,474.00 C477.70,474.50 476.25,474.90 475.20,475.30 C474.15,475.70 471.95,476.22 471.30,476.40 Z" fill="#33B97A" stroke="#404040" stroke-width="0.6" stroke-linejoin="round"/>
<line x1="493.60" y1="476.30" x2="518.00" y2="476.30" stroke="#a8a8a8" stroke-width="0.7"/>
<path d="M521.10,476.40 L545.10,476.40 C544.52,476.15 542.95,475.47 541.60,474.90 C540.25,474.33 537.53,473.65 537.00,473.00 C536.47,472.35 537.63,471.77 538.40,471.00 C539.17,470.23 541.33,469.17 541.60,468.40 C541.87,467.63 541.42,466.85 540.00,466.40 C538.58,465.95 534.25,465.82 533.10,465.70 L533.10,465.70 C531.95,465.82 527.62,465.95 526.20,466.40 C524.78,466.85 524.33,467.63 524.60,468.40 C524.87,469.17 527.03,470.23 527.80,471.00 C528.57,471.77 529.73,472.35 529.20,473.00 C528.67,473.65 525.95,474.33 524.60,474.90 C523.25,475.47 521.68,476.15 521.10,476.40 Z" fill="#E76BF2" stroke="#404040" stroke-width="0.6" stroke-linejoin="round"/>
<text x="397.40" y="477.8"  font-size="14.8" font-style="italic" text-anchor="end">Kcnk1</text>
<line x1="408.7" y1="502.2" x2="550.2" y2="502.2" stroke="#ABABAB" stroke-width="1.1"/>
<line x1="424.10" y1="502.2" x2="424.10" y2="504.59999999999997" stroke="#707070" stroke-width="0.65"/>
<line x1="451.30" y1="502.2" x2="451.30" y2="504.59999999999997" stroke="#707070" stroke-width="0.65"/>
<line x1="478.50" y1="502.2" x2="478.50" y2="504.59999999999997" stroke="#707070" stroke-width="0.65"/>
<line x1="505.70" y1="502.2" x2="505.70" y2="504.59999999999997" stroke="#707070" stroke-width="0.65"/>
<line x1="532.90" y1="502.2" x2="532.90" y2="504.59999999999997" stroke="#707070" stroke-width="0.65"/>
<path d="M419.00,501.40 L429.20,501.40 C428.72,501.27 426.90,501.00 426.30,500.60 C425.70,500.20 425.45,499.63 425.60,499.00 C425.75,498.37 425.70,497.62 427.20,496.80 C428.70,495.98 433.07,494.92 434.60,494.10 C436.13,493.28 436.93,492.62 436.40,491.90 C435.87,491.18 433.20,490.60 431.40,489.80 C429.60,489.00 426.82,487.73 425.60,487.10 C424.38,486.47 424.35,486.18 424.10,486.00 L424.10,486.00 C423.85,486.18 423.82,486.47 422.60,487.10 C421.38,487.73 418.60,489.00 416.80,489.80 C415.00,490.60 412.33,491.18 411.80,491.90 C411.27,492.62 412.07,493.28 413.60,494.10 C415.13,494.92 419.50,495.98 421.00,496.80 C422.50,497.62 422.45,498.37 422.60,499.00 C422.75,499.63 422.50,500.20 421.90,500.60 C421.30,501.00 419.48,501.27 419.00,501.40 Z" fill="#F7766D" stroke="#404040" stroke-width="0.6" stroke-linejoin="round"/>
<path d="M443.50,501.40 L459.10,501.40 C458.25,501.23 455.03,500.80 454.00,500.40 C452.97,500.00 452.53,499.60 452.90,499.00 C453.27,498.40 454.58,497.62 456.20,496.80 C457.82,495.98 461.35,494.82 462.60,494.10 C463.85,493.38 464.23,493.13 463.70,492.50 C463.17,491.87 461.10,490.93 459.40,490.30 C457.70,489.67 454.85,489.12 453.50,488.70 C452.15,488.28 451.67,487.95 451.30,487.80 L451.30,487.80 C450.93,487.95 450.45,488.28 449.10,488.70 C447.75,489.12 444.90,489.67 443.20,490.30 C441.50,490.93 439.43,491.87 438.90,492.50 C438.37,493.13 438.75,493.38 440.00,494.10 C441.25,494.82 444.78,495.98 446.40,496.80 C448.02,497.62 449.33,498.40 449.70,499.00 C450.07,499.60 449.63,500.00 448.60,500.40 C447.57,500.80 444.35,501.23 443.50,501.40 Z" fill="#A3A500" stroke="#404040" stroke-width="0.6" stroke-linejoin="round"/>
<path d="M477.40,501.50 L479.60,501.50 C479.53,501.28 478.83,500.80 479.20,500.20 C479.57,499.60 480.27,498.73 481.80,497.90 C483.33,497.07 486.88,496.08 488.40,495.20 C489.92,494.32 491.57,493.47 490.90,492.60 C490.23,491.73 486.47,490.87 484.40,490.00 C482.33,489.13 479.48,487.83 478.50,487.40 L478.50,487.40 C477.52,487.83 474.67,489.13 472.60,490.00 C470.53,490.87 466.77,491.73 466.10,492.60 C465.43,493.47 467.08,494.32 468.60,495.20 C470.12,496.08 473.67,497.07 475.20,497.90 C476.73,498.73 477.43,499.60 477.80,500.20 C478.17,500.80 477.47,501.28 477.40,501.50 Z" fill="#33B97A" stroke="#404040" stroke-width="0.6" stroke-linejoin="round"/>
<path d="M493.50,501.50 L517.90,501.50 C516.85,501.33 513.38,500.88 511.60,500.50 C509.82,500.12 507.78,499.75 507.20,499.20 C506.62,498.65 507.73,497.87 508.10,497.20 C508.47,496.53 509.50,495.85 509.40,495.20 C509.30,494.55 508.12,493.95 507.50,493.30 C506.88,492.65 506.00,491.63 505.70,491.30 L505.70,491.30 C505.40,491.63 504.52,492.65 503.90,493.30 C503.28,493.95 502.10,494.55 502.00,495.20 C501.90,495.85 502.93,496.53 503.30,497.20 C503.67,497.87 504.78,498.65 504.20,499.20 C503.62,499.75 501.58,500.12 499.80,500.50 C498.02,500.88 494.55,501.33 493.50,501.50 Z" fill="#2AABEE" stroke="#404040" stroke-width="0.6" stroke-linejoin="round"/>
<path d="M520.90,501.50 L544.90,501.50 C544.32,501.28 542.72,500.70 541.40,500.20 C540.08,499.70 537.43,499.10 537.00,498.50 C536.57,497.90 538.03,497.37 538.80,496.60 C539.57,495.83 541.55,494.67 541.60,493.90 C541.65,493.13 540.55,492.43 539.10,492.00 C537.65,491.57 533.93,491.42 532.90,491.30 L532.90,491.30 C531.87,491.42 528.15,491.57 526.70,492.00 C525.25,492.43 524.15,493.13 524.20,493.90 C524.25,494.67 526.23,495.83 527.00,496.60 C527.77,497.37 529.23,497.90 528.80,498.50 C528.37,499.10 525.72,499.70 524.40,500.20 C523.08,500.70 521.48,501.28 520.90,501.50 Z" fill="#E76BF2" stroke="#404040" stroke-width="0.6" stroke-linejoin="round"/>
<text x="398.10" y="502.2"  font-size="14.8" font-style="italic" text-anchor="end">Aqp4</text>
<line x1="408.4" y1="527.2" x2="549.9" y2="527.2" stroke="#ABABAB" stroke-width="1.1"/>
<line x1="424.20" y1="527.2" x2="424.20" y2="529.6" stroke="#707070" stroke-width="0.65"/>
<line x1="451.40" y1="527.2" x2="451.40" y2="529.6" stroke="#707070" stroke-width="0.65"/>
<line x1="478.60" y1="527.2" x2="478.60" y2="529.6" stroke="#707070" stroke-width="0.65"/>
<line x1="505.80" y1="527.2" x2="505.80" y2="529.6" stroke="#707070" stroke-width="0.65"/>
<line x1="533.00" y1="527.2" x2="533.00" y2="529.6" stroke="#707070" stroke-width="0.65"/>
<path d="M412.00,526.40 L436.40,526.40 C435.45,526.23 432.43,525.80 430.70,525.40 C428.97,525.00 426.88,524.52 426.00,524.00 C425.12,523.48 425.17,523.12 425.40,522.30 C425.63,521.48 426.92,520.27 427.40,519.10 C427.88,517.93 428.47,516.47 428.30,515.30 C428.13,514.13 427.00,513.18 426.40,512.10 C425.80,511.02 425.07,509.52 424.70,508.80 C424.33,508.08 424.28,507.97 424.20,507.80 L424.20,507.80 C424.12,507.97 424.07,508.08 423.70,508.80 C423.33,509.52 422.60,511.02 422.00,512.10 C421.40,513.18 420.27,514.13 420.10,515.30 C419.93,516.47 420.52,517.93 421.00,519.10 C421.48,520.27 422.77,521.48 423.00,522.30 C423.23,523.12 423.28,523.48 422.40,524.00 C421.52,524.52 419.43,525.00 417.70,525.40 C415.97,525.80 412.95,526.23 412.00,526.40 Z" fill="#F7766D" stroke="#404040" stroke-width="0.6" stroke-linejoin="round"/>
<path d="M439.20,526.40 L463.60,526.40 C462.73,526.23 460.03,525.80 458.40,525.40 C456.77,525.00 454.60,524.52 453.80,524.00 C453.00,523.48 452.92,523.12 453.60,522.30 C454.28,521.48 456.35,520.27 457.90,519.10 C459.45,517.93 462.55,516.38 462.90,515.30 C463.25,514.22 461.47,513.58 460.00,512.60 C458.53,511.62 455.53,510.30 454.10,509.40 C452.67,508.50 451.85,507.57 451.40,507.20 L451.40,507.20 C450.95,507.57 450.13,508.50 448.70,509.40 C447.27,510.30 444.27,511.62 442.80,512.60 C441.33,513.58 439.55,514.22 439.90,515.30 C440.25,516.38 443.35,517.93 444.90,519.10 C446.45,520.27 448.52,521.48 449.20,522.30 C449.88,523.12 449.80,523.48 449.00,524.00 C448.20,524.52 446.03,525.00 444.40,525.40 C442.77,525.80 440.07,526.23 439.20,526.40 Z" fill="#A3A500" stroke="#404040" stroke-width="0.6" stroke-linejoin="round"/>
<path d="M466.20,526.50 L491.00,526.50 C490.13,526.28 487.47,525.70 485.80,525.20 C484.13,524.70 481.10,524.22 481.00,523.50 C480.90,522.78 483.70,522.10 485.20,520.90 C486.70,519.70 490.00,517.62 490.00,516.30 C490.00,514.98 486.88,514.10 485.20,513.00 C483.52,511.90 481.00,510.63 479.90,509.70 C478.80,508.77 478.82,507.78 478.60,507.40 L478.60,507.40 C478.38,507.78 478.40,508.77 477.30,509.70 C476.20,510.63 473.68,511.90 472.00,513.00 C470.32,514.10 467.20,514.98 467.20,516.30 C467.20,517.62 470.50,519.70 472.00,520.90 C473.50,522.10 476.30,522.78 476.20,523.50 C476.10,524.22 473.07,524.70 471.40,525.20 C469.73,525.70 467.07,526.28 466.20,526.50 Z" fill="#33B97A" stroke="#404040" stroke-width="0.6" stroke-linejoin="round"/>
<line x1="493.60" y1="526.60" x2="518.00" y2="526.60" stroke="#a8a8a8" stroke-width="0.7"/>
<line x1="505.80" y1="526.70" x2="505.80" y2="516.30" stroke="#8e8e8e" stroke-width="0.65"/>
<line x1="520.80" y1="526.60" x2="545.20" y2="526.60" stroke="#a8a8a8" stroke-width="0.7"/>
<line x1="533.00" y1="526.70" x2="533.00" y2="512.60" stroke="#8e8e8e" stroke-width="0.65"/>
<text x="397.70" y="527.6"  font-size="14.8" font-style="italic" text-anchor="end">Mfsd2a</text>
<line x1="407.9" y1="553.2" x2="549.4" y2="553.2" stroke="#ABABAB" stroke-width="1.1"/>
<line x1="423.80" y1="553.2" x2="423.80" y2="555.6" stroke="#707070" stroke-width="0.65"/>
<line x1="451.05" y1="553.2" x2="451.05" y2="555.6" stroke="#707070" stroke-width="0.65"/>
<line x1="478.30" y1="553.2" x2="478.30" y2="555.6" stroke="#707070" stroke-width="0.65"/>
<line x1="505.55" y1="553.2" x2="505.55" y2="555.6" stroke="#707070" stroke-width="0.65"/>
<line x1="532.80" y1="553.2" x2="532.80" y2="555.6" stroke="#707070" stroke-width="0.65"/>
<path d="M415.00,552.40 L432.60,552.40 C431.95,552.23 429.72,551.80 428.70,551.40 C427.68,551.00 426.60,550.68 426.50,550.00 C426.40,549.32 426.93,548.30 428.10,547.30 C429.27,546.30 432.18,545.08 433.50,544.00 C434.82,542.92 436.18,541.78 436.00,540.80 C435.82,539.82 433.98,539.10 432.40,538.10 C430.82,537.10 427.93,535.65 426.50,534.80 C425.07,533.95 424.25,533.30 423.80,533.00 L423.80,533.00 C423.35,533.30 422.53,533.95 421.10,534.80 C419.67,535.65 416.78,537.10 415.20,538.10 C413.62,539.10 411.78,539.82 411.60,540.80 C411.42,541.78 412.78,542.92 414.10,544.00 C415.42,545.08 418.33,546.30 419.50,547.30 C420.67,548.30 421.20,549.32 421.10,550.00 C421.00,550.68 419.92,551.00 418.90,551.40 C417.88,551.80 415.65,552.23 415.00,552.40 Z" fill="#F7766D" stroke="#404040" stroke-width="0.6" stroke-linejoin="round"/>
<path d="M445.65,552.40 L456.45,552.40 C456.00,552.23 454.40,551.80 453.75,551.40 C453.10,551.00 452.40,550.60 452.55,550.00 C452.70,549.40 453.42,548.70 454.65,547.80 C455.88,546.90 458.52,545.87 459.95,544.60 C461.38,543.33 463.30,541.38 463.25,540.20 C463.20,539.02 461.32,538.40 459.65,537.50 C457.98,536.60 454.68,535.42 453.25,534.80 C451.82,534.18 451.42,533.97 451.05,533.80 L451.05,533.80 C450.68,533.97 450.28,534.18 448.85,534.80 C447.42,535.42 444.12,536.60 442.45,537.50 C440.78,538.40 438.90,539.02 438.85,540.20 C438.80,541.38 440.72,543.33 442.15,544.60 C443.58,545.87 446.22,546.90 447.45,547.80 C448.68,548.70 449.40,549.40 449.55,550.00 C449.70,550.60 449.00,551.00 448.35,551.40 C447.70,551.80 446.10,552.23 445.65,552.40 Z" fill="#A3A500" stroke="#404040" stroke-width="0.6" stroke-linejoin="round"/>
<path d="M475.00,552.50 L481.60,552.50 C481.27,552.28 479.82,551.70 479.60,551.20 C479.38,550.70 479.53,550.22 480.30,549.50 C481.07,548.78 482.63,547.88 484.20,546.90 C485.77,545.92 488.65,544.70 489.70,543.60 C490.75,542.50 491.52,541.28 490.50,540.30 C489.48,539.32 485.42,538.47 483.60,537.70 C481.78,536.93 480.48,536.20 479.60,535.70 C478.72,535.20 478.52,534.87 478.30,534.70 L478.30,534.70 C478.08,534.87 477.88,535.20 477.00,535.70 C476.12,536.20 474.82,536.93 473.00,537.70 C471.18,538.47 467.12,539.32 466.10,540.30 C465.08,541.28 465.85,542.50 466.90,543.60 C467.95,544.70 470.83,545.92 472.40,546.90 C473.97,547.88 475.53,548.78 476.30,549.50 C477.07,550.22 477.22,550.70 477.00,551.20 C476.78,551.70 475.33,552.28 475.00,552.50 Z" fill="#33B97A" stroke="#404040" stroke-width="0.6" stroke-linejoin="round"/>
<path d="M493.25,552.50 L517.85,552.50 C516.95,552.28 514.17,551.70 512.45,551.20 C510.73,550.70 508.27,550.10 507.55,549.50 C506.83,548.90 507.88,548.37 508.15,547.60 C508.42,546.83 509.28,545.78 509.15,544.90 C509.02,544.02 507.95,543.17 507.35,542.30 C506.75,541.43 505.85,540.13 505.55,539.70 L505.55,539.70 C505.25,540.13 504.35,541.43 503.75,542.30 C503.15,543.17 502.08,544.02 501.95,544.90 C501.82,545.78 502.68,546.83 502.95,547.60 C503.22,548.37 504.27,548.90 503.55,549.50 C502.83,550.10 500.37,550.70 498.65,551.20 C496.93,551.70 494.15,552.28 493.25,552.50 Z" fill="#2AABEE" stroke="#404040" stroke-width="0.6" stroke-linejoin="round"/>
<path d="M520.80,552.50 L544.80,552.50 C544.07,552.28 542.02,551.70 540.40,551.20 C538.78,550.70 536.10,550.22 535.10,549.50 C534.10,548.78 534.28,547.88 534.40,546.90 C534.52,545.92 535.68,544.48 535.80,543.60 C535.92,542.72 535.60,542.08 535.10,541.60 C534.60,541.12 533.18,540.85 532.80,540.70 L532.80,540.70 C532.42,540.85 531.00,541.12 530.50,541.60 C530.00,542.08 529.68,542.72 529.80,543.60 C529.92,544.48 531.08,545.92 531.20,546.90 C531.32,547.88 531.50,548.78 530.50,549.50 C529.50,550.22 526.82,550.70 525.20,551.20 C523.58,551.70 521.53,552.28 520.80,552.50 Z" fill="#E76BF2" stroke="#404040" stroke-width="0.6" stroke-linejoin="round"/>
<text x="396.80" y="553.3"  font-size="14.8" font-style="italic" text-anchor="end">Tril</text>
<line x1="407.9" y1="579.5" x2="549.4" y2="579.5" stroke="#ABABAB" stroke-width="1.1"/>
<line x1="423.80" y1="579.5" x2="423.80" y2="581.9" stroke="#707070" stroke-width="0.65"/>
<line x1="451.00" y1="579.5" x2="451.00" y2="581.9" stroke="#707070" stroke-width="0.65"/>
<line x1="478.20" y1="579.5" x2="478.20" y2="581.9" stroke="#707070" stroke-width="0.65"/>
<line x1="505.40" y1="579.5" x2="505.40" y2="581.9" stroke="#707070" stroke-width="0.65"/>
<line x1="532.60" y1="579.5" x2="532.60" y2="581.9" stroke="#707070" stroke-width="0.65"/>
<path d="M411.50,578.60 L436.10,578.60 C435.22,578.43 432.55,577.98 430.80,577.60 C429.05,577.22 426.50,576.85 425.60,576.30 C424.70,575.75 425.22,575.17 425.40,574.30 C425.58,573.43 426.48,572.27 426.70,571.10 C426.92,569.93 426.95,568.47 426.70,567.30 C426.45,566.13 425.60,565.18 425.20,564.10 C424.80,563.02 424.53,561.53 424.30,560.80 C424.07,560.07 423.88,559.88 423.80,559.70 L423.80,559.70 C423.72,559.88 423.53,560.07 423.30,560.80 C423.07,561.53 422.80,563.02 422.40,564.10 C422.00,565.18 421.15,566.13 420.90,567.30 C420.65,568.47 420.68,569.93 420.90,571.10 C421.12,572.27 422.02,573.43 422.20,574.30 C422.38,575.17 422.90,575.75 422.00,576.30 C421.10,576.85 418.55,577.22 416.80,577.60 C415.05,577.98 412.38,578.43 411.50,578.60 Z" fill="#F7766D" stroke="#404040" stroke-width="0.6" stroke-linejoin="round"/>
<path d="M438.80,578.60 L463.20,578.60 C462.30,578.43 459.48,577.98 457.80,577.60 C456.12,577.22 453.93,576.75 453.10,576.30 C452.27,575.85 452.50,575.68 452.80,574.90 C453.10,574.12 454.42,572.78 454.90,571.60 C455.38,570.42 455.95,569.05 455.70,567.80 C455.45,566.55 454.10,565.27 453.40,564.10 C452.70,562.93 451.90,561.53 451.50,560.80 C451.10,560.07 451.08,559.88 451.00,559.70 L451.00,559.70 C450.92,559.88 450.90,560.07 450.50,560.80 C450.10,561.53 449.30,562.93 448.60,564.10 C447.90,565.27 446.55,566.55 446.30,567.80 C446.05,569.05 446.62,570.42 447.10,571.60 C447.58,572.78 448.90,574.12 449.20,574.90 C449.50,575.68 449.73,575.85 448.90,576.30 C448.07,576.75 445.88,577.22 444.20,577.60 C442.52,577.98 439.70,578.43 438.80,578.60 Z" fill="#A3A500" stroke="#404040" stroke-width="0.6" stroke-linejoin="round"/>
<path d="M466.20,578.70 L490.20,578.70 C489.30,578.55 486.47,578.17 484.80,577.80 C483.13,577.43 480.65,577.15 480.20,576.50 C479.75,575.85 481.55,575.10 482.10,573.90 C482.65,572.70 483.60,570.62 483.50,569.30 C483.40,567.98 482.23,567.22 481.50,566.00 C480.77,564.78 479.65,562.95 479.10,562.00 C478.55,561.05 478.35,560.58 478.20,560.30 L478.20,560.30 C478.05,560.58 477.85,561.05 477.30,562.00 C476.75,562.95 475.63,564.78 474.90,566.00 C474.17,567.22 473.00,567.98 472.90,569.30 C472.80,570.62 473.75,572.70 474.30,573.90 C474.85,575.10 476.65,575.85 476.20,576.50 C475.75,577.15 473.27,577.43 471.60,577.80 C469.93,578.17 467.10,578.55 466.20,578.70 Z" fill="#33B97A" stroke="#404040" stroke-width="0.6" stroke-linejoin="round"/>
<line x1="493.20" y1="578.90" x2="517.60" y2="578.90" stroke="#a8a8a8" stroke-width="0.7"/>
<line x1="505.40" y1="579.00" x2="505.40" y2="565.00" stroke="#8e8e8e" stroke-width="0.65"/>
<line x1="520.40" y1="578.90" x2="544.80" y2="578.90" stroke="#a8a8a8" stroke-width="0.7"/>
<line x1="532.60" y1="579.00" x2="532.60" y2="578.20" stroke="#8e8e8e" stroke-width="0.65"/>
<text x="395.80" y="577.7"  font-size="14.8" font-style="italic" text-anchor="end">Tlr3</text>
</svg>
</body></html>
